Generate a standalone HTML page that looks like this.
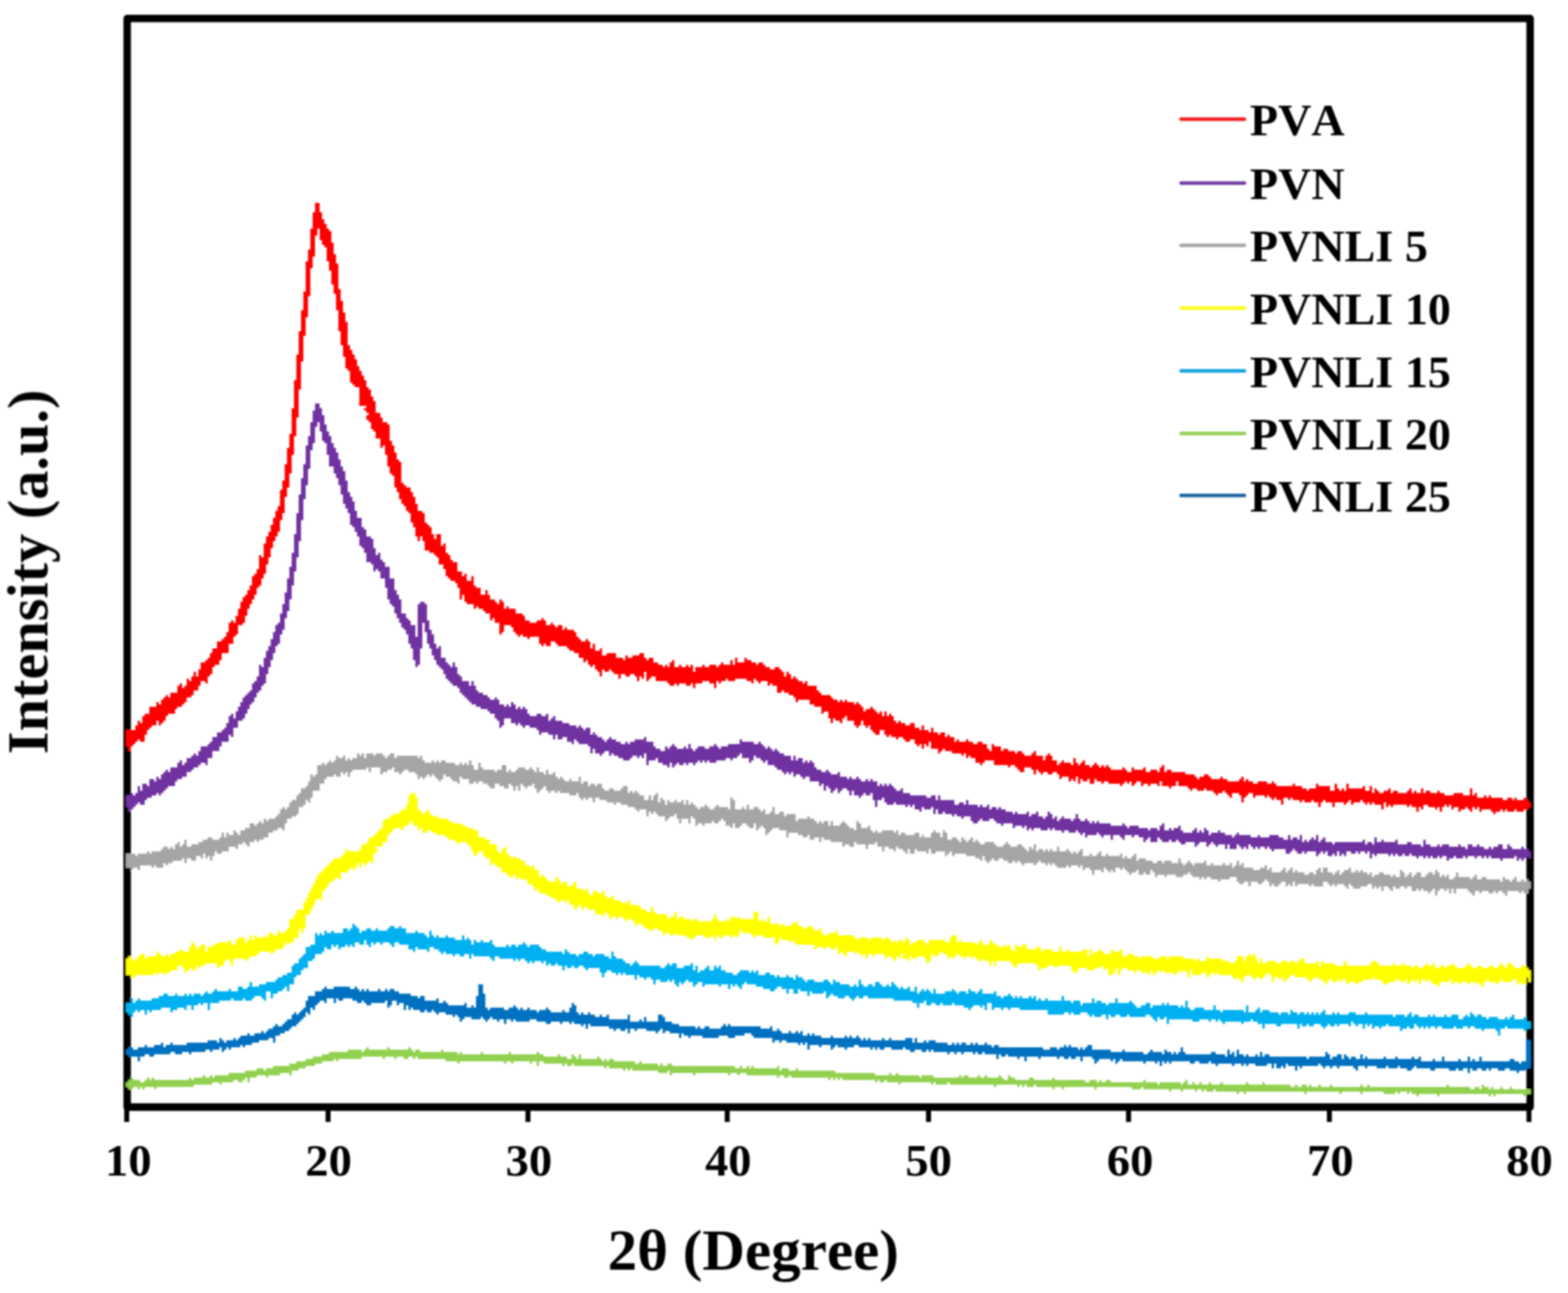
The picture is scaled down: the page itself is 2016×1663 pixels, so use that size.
<!DOCTYPE html>
<html lang="en"><head><meta charset="utf-8"><title>XRD patterns</title>
<style>
html,body{margin:0;padding:0;background:#ffffff;}
body{width:2016px;height:1663px;overflow:hidden;}
svg{display:block;}
text{font-family:"Liberation Serif",serif;font-weight:bold;fill:#000;font-kerning:none;font-variant-ligatures:none;}
.tick{font-size:57px;text-anchor:middle;}
.leg{font-size:57px;}
.title{font-size:75px;text-anchor:middle;}
</style></head><body>
<svg width="2016" height="1663" viewBox="0 0 2016 1663">
<defs><filter id="soft" x="-2%" y="-2%" width="104%" height="104%"><feGaussianBlur stdDeviation="1.0"/></filter>
<filter id="softt" x="-5%" y="-20%" width="110%" height="140%"><feGaussianBlur stdDeviation="0.8"/></filter></defs>
<rect x="0" y="0" width="2016" height="1663" fill="#ffffff"/>

<g filter="url(#soft)">
<rect x="163.5" y="23.8" width="1803.8" height="1400.1000000000001" fill="none" stroke="#000" stroke-width="9.6" stroke-linejoin="round"/>
<rect x="159.7" y="1423.9" width="6.4" height="19.1" fill="#000"/>
<rect x="418.6" y="1423.9" width="6.4" height="19.1" fill="#000"/>
<rect x="675.6" y="1423.9" width="6.4" height="19.1" fill="#000"/>
<rect x="931.8" y="1423.9" width="6.4" height="19.1" fill="#000"/>
<rect x="1190.6" y="1423.9" width="6.4" height="19.1" fill="#000"/>
<rect x="1447.8" y="1423.9" width="6.4" height="19.1" fill="#000"/>
<rect x="1706.0" y="1423.9" width="6.4" height="19.1" fill="#000"/>
<rect x="1962.6" y="1423.9" width="6.4" height="19.1" fill="#000"/>
<path fill="#FF0000" d="M162,939h3v21h-3zM165,939h3v27h-3zM168,939h3v21h-3zM171,939h3v18h-3zM174,933h3v21h-3zM177,927h3v24h-3zM180,930h3v24h-3zM183,921h3v33h-3zM186,918h3v27h-3zM189,918h3v21h-3zM192,909h3v27h-3zM195,909h3v24h-3zM198,909h3v24h-3zM201,903h3v24h-3zM204,906h3v27h-3zM207,900h3v30h-3zM210,897h3v30h-3zM213,894h3v27h-3zM216,897h3v21h-3zM219,891h3v27h-3zM222,891h3v27h-3zM225,891h3v21h-3zM228,882h3v27h-3zM231,879h3v30h-3zM234,885h3v21h-3zM237,882h3v21h-3zM240,873h3v24h-3zM243,876h3v21h-3zM246,870h3v24h-3zM249,864h3v24h-3zM252,870h3v18h-3zM255,861h3v21h-3zM258,852h3v24h-3zM261,852h3v24h-3zM264,849h3v30h-3zM267,846h3v24h-3zM270,840h3v27h-3zM273,834h3v24h-3zM276,834h3v21h-3zM279,825h3v30h-3zM282,825h3v24h-3zM285,822h3v18h-3zM288,819h3v21h-3zM291,813h3v27h-3zM294,801h3v27h-3zM297,798h3v30h-3zM300,801h3v18h-3zM303,792h3v24h-3zM306,783h3v21h-3zM309,774h3v30h-3zM312,768h3v33h-3zM315,765h3v27h-3zM318,759h3v24h-3zM321,753h3v24h-3zM324,741h3v30h-3zM327,738h3v27h-3zM330,732h3v24h-3zM333,714h3v39h-3zM336,717h3v27h-3zM339,699h3v39h-3zM342,690h3v36h-3zM345,684h3v33h-3zM348,675h3v30h-3zM351,666h3v30h-3zM354,657h3v33h-3zM357,651h3v33h-3zM360,630h3v39h-3zM363,618h3v42h-3zM366,597h3v42h-3zM369,576h3v51h-3zM372,558h3v51h-3zM375,525h3v60h-3zM378,489h3v72h-3zM381,456h3v81h-3zM384,426h3v75h-3zM387,399h3v66h-3zM390,375h3v57h-3zM393,336h3v72h-3zM396,321h3v60h-3zM399,294h3v51h-3zM402,273h3v57h-3zM405,261h3v42h-3zM408,261h3v33h-3zM411,273h3v36h-3zM414,282h3v33h-3zM417,288h3v30h-3zM420,294h3v42h-3zM423,297h3v51h-3zM426,312h3v54h-3zM429,327h3v51h-3zM432,339h3v60h-3zM435,372h3v54h-3zM438,387h3v57h-3zM441,402h3v57h-3zM444,414h3v60h-3zM447,444h3v33h-3zM450,450h3v42h-3zM453,456h3v39h-3zM456,462h3v36h-3zM459,471h3v27h-3zM462,477h3v45h-3zM465,483h3v39h-3zM468,489h3v33h-3zM468,525h3v3h-3zM471,498h3v33h-3zM471,534h3v6h-3zM474,501h3v42h-3zM477,510h3v42h-3zM480,516h3v39h-3zM483,531h3v33h-3zM486,531h3v33h-3zM489,537h3v39h-3zM492,543h3v30h-3zM495,543h3v42h-3zM498,546h3v54h-3zM501,567h3v42h-3zM504,573h3v39h-3zM507,582h3v45h-3zM510,591h3v42h-3zM513,594h3v48h-3zM516,621h3v27h-3zM519,624h3v27h-3zM522,627h3v30h-3zM525,627h3v33h-3zM528,633h3v39h-3zM531,639h3v39h-3zM534,648h3v42h-3zM537,657h3v39h-3zM540,657h3v33h-3zM543,660h3v36h-3zM546,672h3v36h-3zM549,675h3v33h-3zM552,678h3v33h-3zM555,687h3v24h-3zM558,693h3v21h-3zM561,687h3v30h-3zM564,687h3v39h-3zM567,702h3v24h-3zM570,699h3v33h-3zM573,711h3v30h-3zM576,714h3v30h-3zM579,720h3v27h-3zM582,723h3v24h-3zM585,723h3v27h-3zM588,735h3v21h-3zM591,735h3v36h-3zM594,741h3v24h-3zM597,738h3v36h-3zM600,747h3v30h-3zM603,747h3v30h-3zM606,741h3v36h-3zM609,753h3v30h-3zM612,756h3v24h-3zM615,756h3v27h-3zM618,765h3v18h-3zM621,765h3v21h-3zM624,759h3v30h-3zM627,765h3v24h-3zM630,771h3v27h-3zM633,771h3v24h-3zM636,774h3v27h-3zM639,777h3v24h-3zM642,771h3v45h-3zM645,774h3v39h-3zM648,783h3v21h-3zM651,780h3v24h-3zM654,783h3v21h-3zM657,783h3v24h-3zM660,783h3v30h-3zM663,789h3v27h-3zM666,789h3v30h-3zM669,789h3v27h-3zM672,792h3v27h-3zM675,798h3v21h-3zM678,798h3v24h-3zM681,801h3v18h-3zM684,801h3v18h-3zM687,801h3v18h-3zM690,798h3v21h-3zM693,798h3v30h-3zM696,795h3v36h-3zM699,798h3v30h-3zM702,804h3v27h-3zM705,804h3v27h-3zM708,801h3v24h-3zM711,804h3v21h-3zM714,807h3v21h-3zM717,804h3v27h-3zM720,804h3v27h-3zM723,810h3v21h-3zM726,807h3v24h-3zM729,810h3v24h-3zM732,810h3v27h-3zM735,810h3v27h-3zM738,813h3v27h-3zM741,819h3v21h-3zM744,822h3v24h-3zM747,825h3v21h-3zM750,825h3v27h-3zM753,822h3v27h-3zM756,825h3v30h-3zM759,834h3v24h-3zM762,828h3v27h-3zM765,837h3v24h-3zM768,837h3v27h-3zM771,834h3v36h-3zM774,843h3v18h-3zM777,843h3v21h-3zM780,840h3v24h-3zM783,840h3v21h-3zM786,840h3v24h-3zM789,840h3v27h-3zM792,846h3v21h-3zM795,846h3v27h-3zM798,846h3v21h-3zM801,849h3v18h-3zM804,843h3v27h-3zM807,846h3v24h-3zM810,846h3v21h-3zM813,843h3v24h-3zM816,843h3v27h-3zM819,843h3v33h-3zM822,840h3v30h-3zM825,840h3v33h-3zM828,846h3v18h-3zM831,849h3v27h-3zM834,846h3v27h-3zM837,846h3v24h-3zM840,852h3v18h-3zM843,852h3v24h-3zM846,855h3v21h-3zM849,855h3v21h-3zM852,858h3v18h-3zM855,855h3v21h-3zM858,858h3v21h-3zM861,852h3v30h-3zM864,849h3v33h-3zM867,858h3v21h-3zM870,858h3v24h-3zM873,855h3v24h-3zM876,858h3v21h-3zM879,858h3v21h-3zM882,855h3v27h-3zM885,858h3v24h-3zM888,855h3v24h-3zM891,864h3v21h-3zM894,858h3v21h-3zM897,858h3v21h-3zM900,858h3v21h-3zM903,855h3v21h-3zM906,858h3v18h-3zM909,858h3v18h-3zM912,855h3v24h-3zM915,855h3v24h-3zM918,855h3v30h-3zM921,858h3v18h-3zM924,855h3v24h-3zM927,852h3v24h-3zM930,855h3v21h-3zM933,855h3v18h-3zM936,855h3v21h-3zM939,849h3v27h-3zM942,855h3v21h-3zM945,846h3v27h-3zM948,852h3v21h-3zM951,852h3v21h-3zM954,852h3v21h-3zM957,846h3v27h-3zM960,849h3v27h-3zM963,849h3v27h-3zM966,852h3v27h-3zM969,852h3v21h-3zM972,855h3v21h-3zM975,852h3v27h-3zM978,852h3v24h-3zM981,855h3v21h-3zM984,858h3v18h-3zM987,858h3v24h-3zM990,861h3v18h-3zM993,861h3v21h-3zM996,858h3v24h-3zM999,858h3v33h-3zM1002,861h3v30h-3zM1005,864h3v24h-3zM1008,870h3v21h-3zM1011,864h3v27h-3zM1014,867h3v27h-3zM1017,873h3v21h-3zM1020,870h3v27h-3zM1023,873h3v30h-3zM1026,876h3v24h-3zM1029,876h3v24h-3zM1032,879h3v21h-3zM1035,876h3v24h-3zM1038,882h3v18h-3zM1041,882h3v24h-3zM1044,882h3v24h-3zM1047,882h3v27h-3zM1050,888h3v21h-3zM1053,891h3v18h-3zM1056,894h3v24h-3zM1059,894h3v21h-3zM1062,894h3v21h-3zM1065,894h3v30h-3zM1068,897h3v33h-3zM1071,900h3v24h-3zM1074,900h3v27h-3zM1077,903h3v24h-3zM1080,900h3v30h-3zM1083,903h3v21h-3zM1086,900h3v21h-3zM1089,903h3v24h-3zM1092,903h3v24h-3zM1095,903h3v24h-3zM1098,906h3v27h-3zM1101,903h3v33h-3zM1104,906h3v27h-3zM1107,909h3v18h-3zM1110,915h3v18h-3zM1113,912h3v24h-3zM1116,912h3v21h-3zM1119,909h3v30h-3zM1122,912h3v30h-3zM1125,915h3v30h-3zM1128,918h3v27h-3zM1131,915h3v24h-3zM1134,921h3v18h-3zM1137,915h3v30h-3zM1140,921h3v27h-3zM1143,918h3v27h-3zM1146,921h3v27h-3zM1149,927h3v21h-3zM1152,930h3v21h-3zM1155,927h3v21h-3zM1158,930h3v18h-3zM1161,930h3v21h-3zM1164,933h3v21h-3zM1167,933h3v21h-3zM1170,930h3v21h-3zM1173,930h3v21h-3zM1176,936h3v21h-3zM1179,936h3v24h-3zM1182,939h3v18h-3zM1185,933h3v30h-3zM1188,939h3v18h-3zM1191,939h3v21h-3zM1194,942h3v12h-3zM1197,936h3v27h-3zM1200,942h3v21h-3zM1203,942h3v21h-3zM1206,945h3v24h-3zM1209,942h3v24h-3zM1212,942h3v21h-3zM1215,948h3v18h-3zM1218,945h3v21h-3zM1221,948h3v18h-3zM1224,948h3v21h-3zM1227,954h3v15h-3zM1230,951h3v18h-3zM1233,954h3v15h-3zM1236,954h3v18h-3zM1239,954h3v15h-3zM1242,951h3v24h-3zM1245,954h3v18h-3zM1248,954h3v21h-3zM1251,957h3v18h-3zM1254,957h3v24h-3zM1257,954h3v27h-3zM1260,954h3v30h-3zM1263,957h3v24h-3zM1266,957h3v21h-3zM1269,963h3v15h-3zM1272,966h3v12h-3zM1275,957h3v21h-3zM1278,960h3v24h-3zM1281,960h3v24h-3zM1284,960h3v24h-3zM1287,966h3v18h-3zM1290,963h3v21h-3zM1293,963h3v21h-3zM1296,966h3v21h-3zM1299,966h3v18h-3zM1302,966h3v18h-3zM1305,969h3v18h-3zM1308,966h3v24h-3zM1311,966h3v27h-3zM1314,969h3v24h-3zM1317,972h3v15h-3zM1320,972h3v15h-3zM1323,972h3v15h-3zM1326,969h3v21h-3zM1329,966h3v30h-3zM1332,972h3v18h-3zM1335,972h3v21h-3zM1338,972h3v24h-3zM1341,978h3v15h-3zM1344,972h3v21h-3zM1347,969h3v27h-3zM1350,972h3v24h-3zM1353,978h3v15h-3zM1356,978h3v15h-3zM1359,984h3v12h-3zM1362,981h3v21h-3zM1365,978h3v21h-3zM1368,981h3v18h-3zM1371,981h3v18h-3zM1374,981h3v24h-3zM1377,984h3v18h-3zM1380,975h3v30h-3zM1383,981h3v18h-3zM1386,984h3v24h-3zM1389,981h3v21h-3zM1392,978h3v27h-3zM1395,984h3v21h-3zM1398,984h3v18h-3zM1401,987h3v21h-3zM1404,984h3v24h-3zM1407,981h3v21h-3zM1410,984h3v21h-3zM1413,987h3v18h-3zM1416,984h3v24h-3zM1419,987h3v18h-3zM1422,984h3v21h-3zM1425,987h3v21h-3zM1428,990h3v18h-3zM1431,990h3v18h-3zM1434,990h3v18h-3zM1437,990h3v18h-3zM1440,990h3v21h-3zM1443,987h3v21h-3zM1446,990h3v15h-3zM1449,993h3v15h-3zM1452,993h3v12h-3zM1455,987h3v24h-3zM1458,990h3v18h-3zM1461,990h3v15h-3zM1464,990h3v15h-3zM1467,990h3v21h-3zM1470,987h3v21h-3zM1473,993h3v15h-3zM1476,993h3v18h-3zM1479,990h3v18h-3zM1482,990h3v18h-3zM1485,990h3v18h-3zM1488,993h3v18h-3zM1491,987h3v18h-3zM1494,984h3v27h-3zM1497,993h3v18h-3zM1500,990h3v21h-3zM1503,990h3v24h-3zM1506,993h3v18h-3zM1509,993h3v18h-3zM1512,993h3v12h-3zM1515,993h3v18h-3zM1518,993h3v18h-3zM1521,993h3v18h-3zM1524,996h3v15h-3zM1527,996h3v18h-3zM1530,996h3v21h-3zM1533,996h3v18h-3zM1536,999h3v15h-3zM1539,1002h3v15h-3zM1542,999h3v18h-3zM1545,999h3v18h-3zM1548,996h3v18h-3zM1551,996h3v21h-3zM1554,999h3v18h-3zM1557,1002h3v15h-3zM1560,1002h3v18h-3zM1563,1002h3v21h-3zM1566,1002h3v18h-3zM1569,999h3v21h-3zM1572,1002h3v15h-3zM1575,1002h3v18h-3zM1578,1005h3v18h-3zM1581,1005h3v21h-3zM1584,1005h3v15h-3zM1587,1005h3v15h-3zM1590,1005h3v15h-3zM1593,1002h3v21h-3zM1596,999h3v33h-3zM1599,1005h3v21h-3zM1602,1002h3v21h-3zM1605,1005h3v15h-3zM1608,1005h3v15h-3zM1611,1008h3v18h-3zM1614,1008h3v15h-3zM1617,1005h3v18h-3zM1620,1005h3v18h-3zM1623,1005h3v18h-3zM1626,1005h3v21h-3zM1629,1008h3v15h-3zM1632,1008h3v18h-3zM1635,1005h3v24h-3zM1638,1008h3v18h-3zM1641,1011h3v18h-3zM1644,1011h3v18h-3zM1647,1011h3v24h-3zM1650,1011h3v15h-3zM1653,1011h3v15h-3zM1656,1011h3v18h-3zM1659,1011h3v15h-3zM1662,1008h3v21h-3zM1665,1011h3v18h-3zM1668,1011h3v18h-3zM1671,1011h3v21h-3zM1674,1014h3v15h-3zM1677,1014h3v18h-3zM1680,1017h3v15h-3zM1683,1014h3v18h-3zM1686,1014h3v15h-3zM1689,1014h3v18h-3zM1692,1008h3v24h-3zM1695,1011h3v27h-3zM1698,1011h3v21h-3zM1701,1011h3v18h-3zM1704,1011h3v21h-3zM1707,1011h3v21h-3zM1710,1017h3v15h-3zM1713,1017h3v21h-3zM1716,1008h3v24h-3zM1719,1014h3v18h-3zM1722,1017h3v15h-3zM1725,1014h3v18h-3zM1728,1017h3v18h-3zM1731,1008h3v24h-3zM1734,1014h3v15h-3zM1737,1014h3v21h-3zM1740,1014h3v18h-3zM1743,1014h3v18h-3zM1746,1014h3v18h-3zM1749,1014h3v15h-3zM1752,1011h3v21h-3zM1755,1017h3v18h-3zM1758,1017h3v15h-3zM1761,1011h3v24h-3zM1764,1020h3v12h-3zM1767,1014h3v21h-3zM1770,1017h3v18h-3zM1773,1020h3v15h-3zM1776,1020h3v21h-3zM1779,1017h3v15h-3zM1782,1017h3v21h-3zM1785,1014h3v21h-3zM1788,1020h3v18h-3zM1791,1017h3v18h-3zM1794,1017h3v18h-3zM1797,1020h3v15h-3zM1800,1020h3v15h-3zM1803,1020h3v15h-3zM1806,1020h3v15h-3zM1809,1017h3v21h-3zM1812,1014h3v21h-3zM1815,1020h3v18h-3zM1818,1017h3v21h-3zM1821,1020h3v24h-3zM1824,1020h3v18h-3zM1827,1014h3v27h-3zM1830,1020h3v15h-3zM1833,1017h3v18h-3zM1836,1017h3v21h-3zM1839,1020h3v18h-3zM1842,1020h3v18h-3zM1845,1020h3v21h-3zM1848,1017h3v21h-3zM1851,1020h3v24h-3zM1854,1020h3v18h-3zM1857,1023h3v12h-3zM1860,1023h3v15h-3zM1863,1023h3v12h-3zM1866,1023h3v18h-3zM1869,1020h3v18h-3zM1872,1020h3v18h-3zM1875,1020h3v24h-3zM1878,1020h3v21h-3zM1881,1023h3v18h-3zM1884,1023h3v15h-3zM1887,1023h3v18h-3zM1890,1014h3v30h-3zM1893,1023h3v15h-3zM1896,1020h3v21h-3zM1899,1026h3v12h-3zM1902,1026h3v18h-3zM1905,1026h3v15h-3zM1908,1023h3v18h-3zM1911,1026h3v15h-3zM1914,1023h3v18h-3zM1917,1026h3v18h-3zM1920,1026h3v21h-3zM1923,1026h3v18h-3zM1926,1026h3v18h-3zM1929,1026h3v15h-3zM1932,1029h3v15h-3zM1935,1029h3v12h-3zM1938,1026h3v18h-3zM1941,1026h3v18h-3zM1944,1029h3v15h-3zM1947,1026h3v15h-3zM1950,1029h3v15h-3zM1953,1029h3v15h-3zM1956,1029h3v15h-3zM1959,1026h3v15h-3zM1962,1029h3v12h-3zM1965,1032h3v6h-3z"/>
<path fill="#7030A0" d="M162,1023h3v15h-3zM165,1023h3v21h-3zM168,1020h3v21h-3zM171,1023h3v15h-3zM174,1020h3v15h-3zM177,1011h3v21h-3zM180,1017h3v18h-3zM183,1008h3v27h-3zM186,1008h3v21h-3zM189,1011h3v15h-3zM192,1002h3v24h-3zM195,1002h3v21h-3zM198,1005h3v18h-3zM201,999h3v21h-3zM204,1002h3v21h-3zM207,996h3v24h-3zM210,993h3v24h-3zM213,990h3v24h-3zM216,993h3v18h-3zM219,987h3v24h-3zM222,987h3v24h-3zM225,987h3v18h-3zM228,981h3v21h-3zM231,978h3v24h-3zM234,984h3v15h-3zM237,981h3v18h-3zM240,975h3v18h-3zM243,975h3v18h-3zM246,972h3v18h-3zM249,969h3v18h-3zM252,972h3v15h-3zM255,966h3v18h-3zM258,960h3v21h-3zM261,960h3v21h-3zM264,960h3v24h-3zM267,957h3v18h-3zM270,954h3v21h-3zM273,948h3v18h-3zM276,948h3v18h-3zM279,942h3v24h-3zM282,942h3v18h-3zM285,939h3v15h-3zM288,936h3v18h-3zM291,930h3v24h-3zM294,921h3v24h-3zM297,918h3v30h-3zM300,924h3v12h-3zM303,915h3v21h-3zM306,909h3v18h-3zM309,903h3v24h-3zM312,897h3v27h-3zM315,894h3v24h-3zM318,891h3v21h-3zM321,888h3v18h-3zM324,879h3v24h-3zM327,876h3v21h-3zM330,870h3v21h-3zM333,855h3v33h-3zM336,858h3v24h-3zM339,846h3v33h-3zM342,837h3v30h-3zM345,831h3v27h-3zM348,822h3v27h-3zM351,813h3v27h-3zM354,804h3v27h-3zM357,801h3v27h-3zM360,789h3v27h-3zM363,777h3v33h-3zM366,762h3v33h-3zM369,744h3v42h-3zM372,729h3v42h-3zM375,711h3v42h-3zM378,687h3v48h-3zM381,660h3v57h-3zM384,636h3v60h-3zM387,615h3v54h-3zM390,597h3v45h-3zM393,573h3v51h-3zM396,561h3v42h-3zM399,543h3v36h-3zM402,528h3v42h-3zM405,519h3v30h-3zM408,519h3v24h-3zM411,525h3v30h-3zM414,534h3v33h-3zM417,546h3v24h-3zM420,555h3v30h-3zM423,561h3v39h-3zM426,570h3v30h-3zM429,576h3v33h-3zM432,582h3v33h-3zM435,591h3v33h-3zM438,600h3v36h-3zM441,606h3v42h-3zM444,618h3v36h-3zM447,633h3v27h-3zM450,639h3v36h-3zM453,645h3v33h-3zM456,657h3v27h-3zM459,666h3v24h-3zM462,666h3v36h-3zM465,678h3v27h-3zM468,681h3v30h-3zM471,690h3v33h-3zM474,690h3v33h-3zM477,693h3v33h-3zM480,705h3v30h-3zM483,714h3v18h-3zM486,711h3v24h-3zM489,720h3v24h-3zM492,723h3v21h-3zM495,729h3v27h-3zM498,729h3v42h-3zM501,744h3v33h-3zM504,744h3v36h-3zM507,759h3v30h-3zM510,765h3v30h-3zM513,771h3v30h-3zM516,789h3v18h-3zM519,789h3v21h-3zM522,795h3v21h-3zM525,798h3v30h-3zM528,804h3v30h-3zM531,804h3v45h-3zM534,819h3v39h-3zM537,777h3v78h-3zM540,774h3v60h-3zM543,774h3v27h-3zM546,777h3v36h-3zM549,798h3v30h-3zM552,810h3v24h-3zM555,816h3v27h-3zM558,828h3v21h-3zM561,834h3v21h-3zM564,831h3v27h-3zM567,846h3v15h-3zM570,846h3v21h-3zM573,852h3v21h-3zM576,855h3v21h-3zM579,858h3v21h-3zM582,852h3v30h-3zM585,858h3v24h-3zM588,867h3v18h-3zM591,870h3v21h-3zM594,876h3v18h-3zM597,876h3v21h-3zM600,876h3v24h-3zM603,882h3v21h-3zM606,876h3v30h-3zM609,882h3v24h-3zM612,888h3v21h-3zM615,891h3v18h-3zM618,891h3v21h-3zM621,894h3v18h-3zM624,894h3v18h-3zM627,897h3v18h-3zM630,900h3v18h-3zM633,900h3v18h-3zM636,897h3v27h-3zM639,900h3v27h-3zM642,906h3v30h-3zM645,906h3v27h-3zM648,909h3v15h-3zM651,906h3v18h-3zM654,909h3v15h-3zM657,903h3v27h-3zM660,906h3v24h-3zM663,912h3v21h-3zM666,909h3v21h-3zM669,912h3v21h-3zM672,909h3v27h-3zM675,912h3v21h-3zM678,918h3v15h-3zM681,921h3v15h-3zM684,921h3v15h-3zM687,921h3v15h-3zM690,918h3v21h-3zM693,918h3v27h-3zM696,921h3v21h-3zM699,921h3v21h-3zM702,918h3v24h-3zM705,927h3v18h-3zM708,924h3v21h-3zM711,921h3v30h-3zM714,927h3v18h-3zM717,927h3v24h-3zM720,927h3v24h-3zM723,930h3v18h-3zM726,930h3v18h-3zM729,930h3v24h-3zM732,933h3v21h-3zM735,933h3v24h-3zM738,933h3v18h-3zM741,936h3v18h-3zM744,933h3v24h-3zM747,936h3v21h-3zM750,939h3v18h-3zM753,936h3v21h-3zM756,936h3v24h-3zM759,945h3v24h-3zM762,942h3v21h-3zM765,945h3v24h-3zM768,948h3v21h-3zM771,948h3v24h-3zM774,951h3v18h-3zM777,954h3v12h-3zM780,951h3v15h-3zM783,948h3v24h-3zM786,951h3v18h-3zM789,951h3v21h-3zM792,954h3v18h-3zM795,954h3v21h-3zM798,957h3v18h-3zM801,957h3v21h-3zM804,954h3v24h-3zM807,957h3v21h-3zM810,954h3v21h-3zM813,954h3v18h-3zM816,951h3v21h-3zM819,951h3v24h-3zM822,951h3v21h-3zM825,951h3v24h-3zM828,948h3v21h-3zM831,954h3v30h-3zM834,954h3v24h-3zM837,954h3v24h-3zM840,960h3v18h-3zM843,963h3v12h-3zM846,963h3v18h-3zM849,966h3v15h-3zM852,966h3v18h-3zM855,960h3v24h-3zM858,963h3v24h-3zM861,960h3v21h-3zM864,957h3v30h-3zM867,960h3v24h-3zM870,963h3v18h-3zM873,963h3v21h-3zM876,963h3v21h-3zM879,960h3v21h-3zM882,963h3v21h-3zM885,957h3v24h-3zM888,963h3v18h-3zM891,966h3v18h-3zM894,963h3v18h-3zM897,960h3v18h-3zM900,960h3v21h-3zM903,960h3v18h-3zM906,963h3v18h-3zM909,963h3v15h-3zM912,960h3v21h-3zM915,960h3v21h-3zM918,957h3v24h-3zM921,960h3v18h-3zM924,963h3v15h-3zM927,960h3v18h-3zM930,960h3v18h-3zM933,960h3v15h-3zM936,957h3v18h-3zM939,957h3v21h-3zM942,957h3v18h-3zM945,957h3v18h-3zM948,957h3v15h-3zM951,951h3v18h-3zM954,954h3v21h-3zM957,954h3v21h-3zM960,954h3v21h-3zM963,954h3v27h-3zM966,954h3v24h-3zM969,957h3v15h-3zM972,957h3v18h-3zM975,954h3v21h-3zM978,957h3v21h-3zM981,960h3v21h-3zM984,963h3v15h-3zM987,960h3v24h-3zM990,963h3v21h-3zM993,966h3v18h-3zM996,963h3v24h-3zM999,966h3v24h-3zM1002,969h3v21h-3zM1005,969h3v24h-3zM1008,972h3v24h-3zM1011,972h3v21h-3zM1014,972h3v24h-3zM1017,978h3v15h-3zM1020,972h3v27h-3zM1023,978h3v18h-3zM1026,975h3v21h-3zM1029,975h3v24h-3zM1032,981h3v21h-3zM1035,978h3v21h-3zM1038,981h3v18h-3zM1041,978h3v27h-3zM1044,981h3v24h-3zM1047,987h3v18h-3zM1050,990h3v15h-3zM1053,990h3v21h-3zM1056,993h3v15h-3zM1059,993h3v24h-3zM1062,990h3v21h-3zM1065,993h3v21h-3zM1068,996h3v24h-3zM1071,996h3v21h-3zM1074,996h3v18h-3zM1077,993h3v27h-3zM1080,999h3v18h-3zM1083,999h3v15h-3zM1086,999h3v15h-3zM1089,1002h3v15h-3zM1092,999h3v24h-3zM1095,1002h3v15h-3zM1098,1002h3v21h-3zM1101,999h3v24h-3zM1104,1002h3v24h-3zM1107,1005h3v18h-3zM1110,1005h3v15h-3zM1113,1002h3v21h-3zM1116,1005h3v18h-3zM1119,1002h3v18h-3zM1122,1005h3v24h-3zM1125,1005h3v33h-3zM1128,1011h3v18h-3zM1131,1008h3v21h-3zM1134,1011h3v15h-3zM1137,1008h3v24h-3zM1140,1011h3v24h-3zM1143,1008h3v27h-3zM1146,1011h3v24h-3zM1149,1014h3v18h-3zM1152,1017h3v18h-3zM1155,1017h3v18h-3zM1158,1014h3v21h-3zM1161,1020h3v15h-3zM1164,1020h3v18h-3zM1167,1020h3v15h-3zM1170,1023h3v15h-3zM1173,1023h3v12h-3zM1176,1023h3v18h-3zM1179,1023h3v18h-3zM1182,1023h3v21h-3zM1185,1023h3v15h-3zM1188,1023h3v18h-3zM1191,1026h3v15h-3zM1194,1026h3v15h-3zM1197,1023h3v15h-3zM1200,1023h3v24h-3zM1203,1029h3v12h-3zM1206,1023h3v24h-3zM1209,1029h3v18h-3zM1212,1029h3v15h-3zM1215,1029h3v18h-3zM1218,1029h3v18h-3zM1221,1029h3v18h-3zM1224,1029h3v21h-3zM1227,1035h3v12h-3zM1230,1035h3v15h-3zM1233,1032h3v18h-3zM1236,1032h3v21h-3zM1239,1035h3v15h-3zM1242,1029h3v21h-3zM1245,1035h3v15h-3zM1248,1035h3v21h-3zM1251,1035h3v24h-3zM1254,1035h3v24h-3zM1257,1038h3v18h-3zM1260,1035h3v18h-3zM1263,1038h3v18h-3zM1266,1038h3v18h-3zM1269,1035h3v21h-3zM1272,1041h3v12h-3zM1275,1038h3v15h-3zM1278,1038h3v18h-3zM1281,1041h3v18h-3zM1284,1038h3v21h-3zM1287,1041h3v21h-3zM1290,1041h3v18h-3zM1293,1044h3v15h-3zM1296,1044h3v15h-3zM1299,1044h3v15h-3zM1302,1047h3v18h-3zM1305,1044h3v18h-3zM1308,1047h3v15h-3zM1311,1047h3v15h-3zM1314,1047h3v18h-3zM1317,1047h3v15h-3zM1320,1044h3v24h-3zM1323,1050h3v15h-3zM1326,1047h3v21h-3zM1329,1047h3v18h-3zM1332,1044h3v21h-3zM1335,1050h3v15h-3zM1338,1050h3v18h-3zM1341,1053h3v15h-3zM1344,1050h3v18h-3zM1347,1044h3v21h-3zM1350,1047h3v21h-3zM1353,1053h3v12h-3zM1356,1050h3v18h-3zM1359,1056h3v12h-3zM1362,1053h3v15h-3zM1365,1050h3v21h-3zM1368,1053h3v15h-3zM1371,1053h3v15h-3zM1374,1053h3v18h-3zM1377,1056h3v15h-3zM1380,1053h3v18h-3zM1383,1047h3v21h-3zM1386,1053h3v18h-3zM1389,1056h3v18h-3zM1392,1056h3v15h-3zM1395,1053h3v24h-3zM1398,1056h3v18h-3zM1401,1059h3v15h-3zM1404,1056h3v18h-3zM1407,1059h3v15h-3zM1410,1056h3v15h-3zM1413,1059h3v15h-3zM1416,1059h3v18h-3zM1419,1059h3v15h-3zM1422,1059h3v15h-3zM1425,1059h3v15h-3zM1428,1062h3v18h-3zM1431,1062h3v12h-3zM1434,1062h3v12h-3zM1437,1062h3v12h-3zM1440,1062h3v15h-3zM1443,1059h3v21h-3zM1446,1062h3v12h-3zM1449,1065h3v9h-3zM1452,1062h3v12h-3zM1455,1062h3v15h-3zM1458,1062h3v12h-3zM1461,1062h3v12h-3zM1464,1065h3v12h-3zM1467,1065h3v12h-3zM1470,1065h3v18h-3zM1473,1065h3v15h-3zM1476,1068h3v9h-3zM1479,1065h3v18h-3zM1482,1065h3v18h-3zM1485,1065h3v18h-3zM1488,1068h3v9h-3zM1491,1062h3v18h-3zM1494,1059h3v24h-3zM1497,1068h3v15h-3zM1500,1068h3v15h-3zM1503,1065h3v15h-3zM1506,1068h3v15h-3zM1509,1065h3v18h-3zM1512,1065h3v15h-3zM1515,1062h3v21h-3zM1518,1068h3v18h-3zM1521,1071h3v15h-3zM1524,1071h3v12h-3zM1527,1071h3v12h-3zM1530,1071h3v12h-3zM1533,1068h3v15h-3zM1536,1065h3v24h-3zM1539,1071h3v15h-3zM1542,1068h3v15h-3zM1545,1071h3v12h-3zM1548,1065h3v18h-3zM1551,1068h3v21h-3zM1554,1074h3v12h-3zM1557,1071h3v12h-3zM1560,1071h3v15h-3zM1563,1071h3v18h-3zM1566,1068h3v18h-3zM1569,1071h3v15h-3zM1572,1071h3v15h-3zM1575,1074h3v18h-3zM1578,1074h3v12h-3zM1581,1074h3v18h-3zM1584,1077h3v15h-3zM1587,1074h3v18h-3zM1590,1071h3v15h-3zM1593,1074h3v15h-3zM1596,1074h3v18h-3zM1599,1074h3v15h-3zM1602,1074h3v18h-3zM1605,1074h3v12h-3zM1608,1077h3v12h-3zM1611,1077h3v15h-3zM1614,1077h3v12h-3zM1617,1074h3v18h-3zM1620,1077h3v12h-3zM1623,1077h3v12h-3zM1626,1077h3v15h-3zM1629,1077h3v12h-3zM1632,1074h3v18h-3zM1635,1074h3v21h-3zM1638,1074h3v18h-3zM1641,1074h3v18h-3zM1644,1077h3v15h-3zM1647,1077h3v15h-3zM1650,1080h3v12h-3zM1653,1080h3v18h-3zM1656,1074h3v24h-3zM1659,1080h3v15h-3zM1662,1077h3v15h-3zM1665,1077h3v18h-3zM1668,1080h3v18h-3zM1671,1074h3v24h-3zM1674,1083h3v12h-3zM1677,1080h3v18h-3zM1680,1083h3v12h-3zM1683,1080h3v15h-3zM1686,1077h3v18h-3zM1689,1080h3v15h-3zM1692,1074h3v27h-3zM1695,1083h3v15h-3zM1698,1080h3v15h-3zM1701,1077h3v21h-3zM1704,1083h3v12h-3zM1707,1083h3v18h-3zM1710,1083h3v18h-3zM1713,1086h3v12h-3zM1716,1083h3v18h-3zM1719,1083h3v12h-3zM1722,1083h3v18h-3zM1725,1083h3v15h-3zM1728,1083h3v18h-3zM1731,1083h3v12h-3zM1734,1083h3v12h-3zM1737,1083h3v15h-3zM1740,1083h3v15h-3zM1743,1083h3v12h-3zM1746,1083h3v15h-3zM1749,1083h3v12h-3zM1752,1080h3v15h-3zM1755,1086h3v12h-3zM1758,1083h3v12h-3zM1761,1083h3v21h-3zM1764,1086h3v12h-3zM1767,1077h3v24h-3zM1770,1083h3v15h-3zM1773,1083h3v15h-3zM1776,1080h3v18h-3zM1779,1083h3v15h-3zM1782,1083h3v15h-3zM1785,1083h3v18h-3zM1788,1083h3v15h-3zM1791,1083h3v18h-3zM1794,1080h3v18h-3zM1797,1086h3v15h-3zM1800,1086h3v15h-3zM1803,1086h3v12h-3zM1806,1086h3v15h-3zM1809,1083h3v18h-3zM1812,1083h3v15h-3zM1815,1086h3v15h-3zM1818,1086h3v15h-3zM1821,1086h3v18h-3zM1824,1086h3v15h-3zM1827,1089h3v12h-3zM1830,1080h3v24h-3zM1833,1086h3v15h-3zM1836,1086h3v18h-3zM1839,1089h3v12h-3zM1842,1089h3v15h-3zM1845,1089h3v15h-3zM1848,1086h3v15h-3zM1851,1089h3v15h-3zM1854,1086h3v15h-3zM1857,1086h3v15h-3zM1860,1086h3v21h-3zM1863,1089h3v15h-3zM1866,1089h3v15h-3zM1869,1089h3v12h-3zM1872,1089h3v15h-3zM1875,1086h3v18h-3zM1878,1089h3v15h-3zM1881,1089h3v12h-3zM1884,1092h3v12h-3zM1887,1086h3v15h-3zM1890,1086h3v15h-3zM1893,1089h3v12h-3zM1896,1089h3v15h-3zM1899,1086h3v15h-3zM1902,1089h3v12h-3zM1905,1089h3v15h-3zM1908,1092h3v9h-3zM1911,1092h3v12h-3zM1914,1089h3v12h-3zM1917,1092h3v12h-3zM1920,1089h3v15h-3zM1923,1089h3v15h-3zM1926,1086h3v18h-3zM1929,1086h3v21h-3zM1932,1092h3v12h-3zM1935,1092h3v12h-3zM1938,1086h3v18h-3zM1941,1089h3v15h-3zM1944,1092h3v12h-3zM1947,1092h3v9h-3zM1950,1092h3v15h-3zM1953,1092h3v12h-3zM1956,1089h3v18h-3zM1959,1092h3v12h-3zM1962,1092h3v9h-3zM1965,1095h3v9h-3z"/>
<path fill="#A5A5A5" d="M162,1098h3v18h-3zM165,1098h3v18h-3zM168,1098h3v21h-3zM171,1098h3v18h-3zM174,1101h3v15h-3zM177,1098h3v21h-3zM180,1098h3v15h-3zM183,1098h3v15h-3zM186,1098h3v15h-3zM189,1095h3v18h-3zM192,1098h3v15h-3zM195,1095h3v21h-3zM198,1095h3v18h-3zM201,1095h3v21h-3zM204,1095h3v21h-3zM207,1092h3v24h-3zM210,1089h3v21h-3zM213,1089h3v24h-3zM216,1092h3v18h-3zM219,1089h3v21h-3zM222,1092h3v15h-3zM225,1086h3v21h-3zM228,1083h3v24h-3zM231,1089h3v18h-3zM234,1086h3v18h-3zM237,1080h3v30h-3zM240,1089h3v15h-3zM243,1089h3v15h-3zM246,1086h3v21h-3zM249,1086h3v21h-3zM252,1086h3v15h-3zM255,1083h3v18h-3zM258,1083h3v21h-3zM261,1080h3v18h-3zM264,1080h3v24h-3zM267,1077h3v24h-3zM270,1077h3v30h-3zM273,1080h3v21h-3zM276,1080h3v15h-3zM279,1080h3v18h-3zM282,1077h3v21h-3zM285,1071h3v24h-3zM288,1077h3v18h-3zM291,1071h3v24h-3zM294,1074h3v15h-3zM297,1074h3v15h-3zM300,1068h3v21h-3zM303,1071h3v21h-3zM306,1074h3v12h-3zM309,1068h3v18h-3zM312,1068h3v15h-3zM315,1065h3v21h-3zM318,1065h3v24h-3zM321,1059h3v24h-3zM324,1059h3v24h-3zM327,1062h3v18h-3zM330,1059h3v24h-3zM333,1056h3v24h-3zM336,1059h3v21h-3zM339,1053h3v24h-3zM342,1056h3v21h-3zM345,1053h3v18h-3zM348,1053h3v18h-3zM351,1053h3v15h-3zM354,1050h3v18h-3zM357,1047h3v18h-3zM360,1041h3v24h-3zM363,1038h3v30h-3zM366,1041h3v18h-3zM369,1038h3v15h-3zM372,1032h3v21h-3zM375,1029h3v21h-3zM378,1029h3v21h-3zM381,1023h3v24h-3zM384,1020h3v18h-3zM387,1014h3v24h-3zM390,1014h3v21h-3zM393,1011h3v18h-3zM396,1005h3v27h-3zM399,996h3v30h-3zM402,999h3v18h-3zM405,996h3v21h-3zM408,984h3v33h-3zM411,984h3v24h-3zM414,981h3v27h-3zM417,984h3v18h-3zM420,981h3v18h-3zM423,978h3v21h-3zM426,981h3v18h-3zM429,978h3v18h-3zM432,972h3v27h-3zM435,975h3v24h-3zM438,975h3v18h-3zM441,972h3v24h-3zM444,978h3v15h-3zM447,975h3v24h-3zM450,978h3v15h-3zM453,975h3v15h-3zM456,975h3v15h-3zM459,969h3v21h-3zM462,972h3v18h-3zM465,969h3v21h-3zM468,975h3v15h-3zM471,969h3v18h-3zM474,969h3v24h-3zM477,969h3v18h-3zM480,972h3v15h-3zM483,969h3v18h-3zM486,969h3v18h-3zM489,969h3v27h-3zM492,972h3v21h-3zM495,975h3v18h-3zM498,972h3v18h-3zM501,969h3v21h-3zM504,969h3v18h-3zM507,975h3v18h-3zM510,972h3v21h-3zM513,972h3v24h-3zM516,972h3v21h-3zM519,972h3v18h-3zM522,972h3v18h-3zM525,972h3v21h-3zM528,972h3v21h-3zM531,972h3v21h-3zM534,972h3v24h-3zM537,975h3v27h-3zM540,972h3v27h-3zM543,978h3v24h-3zM546,981h3v18h-3zM549,981h3v15h-3zM552,981h3v18h-3zM555,978h3v18h-3zM558,981h3v18h-3zM561,978h3v24h-3zM564,981h3v24h-3zM567,978h3v24h-3zM570,978h3v18h-3zM573,981h3v18h-3zM576,981h3v18h-3zM579,981h3v21h-3zM582,981h3v24h-3zM585,984h3v21h-3zM588,984h3v24h-3zM591,981h3v18h-3zM594,984h3v18h-3zM597,981h3v21h-3zM600,984h3v18h-3zM603,978h3v30h-3zM606,984h3v24h-3zM609,990h3v15h-3zM612,990h3v18h-3zM615,981h3v24h-3zM618,987h3v18h-3zM621,990h3v18h-3zM624,990h3v18h-3zM627,990h3v21h-3zM630,990h3v24h-3zM633,990h3v24h-3zM636,993h3v15h-3zM639,990h3v18h-3zM642,990h3v21h-3zM645,984h3v27h-3zM648,984h3v30h-3zM651,993h3v21h-3zM654,990h3v18h-3zM657,993h3v18h-3zM660,993h3v24h-3zM663,990h3v21h-3zM666,987h3v30h-3zM669,987h3v21h-3zM672,987h3v24h-3zM675,990h3v24h-3zM678,990h3v21h-3zM681,987h3v24h-3zM684,990h3v18h-3zM687,993h3v21h-3zM690,987h3v33h-3zM693,993h3v24h-3zM696,993h3v21h-3zM699,996h3v15h-3zM702,990h3v27h-3zM705,996h3v24h-3zM708,996h3v21h-3zM711,993h3v24h-3zM714,999h3v21h-3zM717,1002h3v15h-3zM720,999h3v21h-3zM723,1002h3v18h-3zM726,1005h3v15h-3zM729,1005h3v15h-3zM732,1002h3v21h-3zM735,1005h3v18h-3zM738,1005h3v18h-3zM741,1005h3v15h-3zM744,999h3v27h-3zM747,1008h3v21h-3zM750,1005h3v21h-3zM753,1005h3v24h-3zM756,1011h3v15h-3zM759,1008h3v18h-3zM762,1008h3v24h-3zM765,1011h3v15h-3zM768,1008h3v18h-3zM771,1008h3v21h-3zM774,1014h3v15h-3zM777,1017h3v12h-3zM780,1017h3v15h-3zM783,1014h3v18h-3zM786,1014h3v18h-3zM789,1017h3v18h-3zM792,1017h3v15h-3zM795,1017h3v15h-3zM798,1014h3v21h-3zM801,1011h3v24h-3zM804,1011h3v24h-3zM807,1020h3v18h-3zM810,1017h3v21h-3zM813,1020h3v18h-3zM816,1017h3v24h-3zM819,1020h3v24h-3zM822,1023h3v18h-3zM825,1023h3v18h-3zM828,1029h3v12h-3zM831,1029h3v21h-3zM834,1023h3v21h-3zM837,1029h3v18h-3zM840,1023h3v21h-3zM843,1020h3v27h-3zM846,1032h3v18h-3zM849,1026h3v24h-3zM852,1029h3v21h-3zM855,1035h3v21h-3zM858,1029h3v24h-3zM861,1032h3v18h-3zM864,1032h3v18h-3zM867,1029h3v18h-3zM870,1032h3v21h-3zM873,1032h3v27h-3zM876,1029h3v24h-3zM879,1035h3v18h-3zM882,1029h3v24h-3zM885,1035h3v24h-3zM888,1032h3v18h-3zM891,1035h3v18h-3zM894,1038h3v24h-3zM897,1041h3v18h-3zM900,1038h3v21h-3zM903,1038h3v24h-3zM906,1035h3v24h-3zM909,1038h3v21h-3zM912,1041h3v18h-3zM915,1041h3v15h-3zM918,1038h3v21h-3zM921,1035h3v24h-3zM924,1038h3v18h-3zM927,1038h3v15h-3zM930,1038h3v18h-3zM933,1038h3v24h-3zM936,1041h3v21h-3zM939,1026h3v39h-3zM942,1029h3v30h-3zM945,1041h3v24h-3zM948,1041h3v24h-3zM951,1041h3v21h-3zM954,1038h3v21h-3zM957,1041h3v18h-3zM960,1035h3v27h-3zM963,1041h3v24h-3zM966,1041h3v24h-3zM969,1038h3v21h-3zM972,1038h3v30h-3zM975,1041h3v24h-3zM978,1044h3v18h-3zM981,1041h3v24h-3zM984,1047h3v27h-3zM987,1047h3v24h-3zM990,1044h3v24h-3zM993,1038h3v27h-3zM996,1047h3v18h-3zM999,1047h3v18h-3zM1002,1044h3v24h-3zM1005,1044h3v24h-3zM1008,1050h3v18h-3zM1011,1047h3v30h-3zM1014,1047h3v24h-3zM1017,1047h3v24h-3zM1020,1047h3v24h-3zM1023,1056h3v15h-3zM1026,1053h3v21h-3zM1029,1053h3v21h-3zM1032,1053h3v24h-3zM1035,1053h3v24h-3zM1038,1050h3v24h-3zM1041,1053h3v27h-3zM1044,1053h3v27h-3zM1047,1056h3v21h-3zM1050,1059h3v18h-3zM1053,1056h3v27h-3zM1056,1059h3v18h-3zM1059,1056h3v24h-3zM1062,1056h3v24h-3zM1065,1062h3v18h-3zM1068,1056h3v27h-3zM1071,1062h3v21h-3zM1074,1062h3v21h-3zM1077,1062h3v21h-3zM1080,1059h3v24h-3zM1083,1056h3v33h-3zM1086,1059h3v27h-3zM1089,1062h3v24h-3zM1092,1065h3v24h-3zM1095,1065h3v24h-3zM1098,1068h3v15h-3zM1101,1056h3v30h-3zM1104,1059h3v27h-3zM1107,1065h3v21h-3zM1110,1065h3v21h-3zM1113,1065h3v27h-3zM1116,1062h3v24h-3zM1119,1068h3v18h-3zM1122,1071h3v15h-3zM1125,1068h3v15h-3zM1128,1071h3v18h-3zM1131,1071h3v18h-3zM1134,1068h3v27h-3zM1137,1068h3v21h-3zM1140,1068h3v21h-3zM1143,1068h3v24h-3zM1146,1068h3v24h-3zM1149,1071h3v24h-3zM1152,1068h3v21h-3zM1155,1074h3v18h-3zM1158,1071h3v21h-3zM1161,1071h3v24h-3zM1164,1074h3v24h-3zM1167,1074h3v18h-3zM1170,1074h3v24h-3zM1173,1074h3v24h-3zM1176,1071h3v21h-3zM1179,1071h3v24h-3zM1182,1077h3v18h-3zM1185,1074h3v21h-3zM1188,1077h3v18h-3zM1191,1077h3v21h-3zM1194,1077h3v15h-3zM1197,1071h3v27h-3zM1200,1068h3v30h-3zM1203,1071h3v24h-3zM1206,1071h3v24h-3zM1209,1077h3v18h-3zM1212,1068h3v27h-3zM1215,1071h3v30h-3zM1218,1080h3v18h-3zM1221,1080h3v15h-3zM1224,1077h3v24h-3zM1227,1077h3v21h-3zM1230,1080h3v18h-3zM1233,1083h3v15h-3zM1236,1077h3v21h-3zM1239,1080h3v18h-3zM1242,1083h3v18h-3zM1245,1080h3v21h-3zM1248,1077h3v24h-3zM1251,1083h3v18h-3zM1254,1080h3v24h-3zM1257,1083h3v21h-3zM1260,1086h3v21h-3zM1263,1086h3v15h-3zM1266,1083h3v24h-3zM1269,1083h3v27h-3zM1272,1083h3v24h-3zM1275,1083h3v21h-3zM1278,1086h3v21h-3zM1281,1089h3v18h-3zM1284,1089h3v15h-3zM1287,1089h3v15h-3zM1290,1086h3v21h-3zM1293,1083h3v24h-3zM1296,1086h3v24h-3zM1299,1089h3v21h-3zM1302,1089h3v18h-3zM1305,1089h3v21h-3zM1308,1086h3v21h-3zM1311,1086h3v24h-3zM1314,1089h3v24h-3zM1317,1092h3v18h-3zM1320,1095h3v15h-3zM1323,1089h3v21h-3zM1326,1092h3v18h-3zM1329,1086h3v27h-3zM1332,1095h3v15h-3zM1335,1092h3v15h-3zM1338,1092h3v18h-3zM1341,1095h3v15h-3zM1344,1092h3v21h-3zM1347,1095h3v15h-3zM1350,1092h3v21h-3zM1353,1095h3v15h-3zM1356,1095h3v18h-3zM1359,1089h3v27h-3zM1362,1095h3v21h-3zM1365,1095h3v21h-3zM1368,1095h3v21h-3zM1371,1092h3v21h-3zM1374,1095h3v21h-3zM1377,1098h3v15h-3zM1380,1095h3v18h-3zM1383,1098h3v15h-3zM1386,1095h3v21h-3zM1389,1092h3v21h-3zM1392,1101h3v18h-3zM1395,1101h3v15h-3zM1398,1101h3v15h-3zM1401,1098h3v21h-3zM1404,1101h3v24h-3zM1407,1101h3v18h-3zM1410,1098h3v21h-3zM1413,1095h3v24h-3zM1416,1101h3v21h-3zM1419,1101h3v15h-3zM1422,1098h3v21h-3zM1425,1101h3v21h-3zM1428,1101h3v18h-3zM1431,1101h3v21h-3zM1434,1101h3v15h-3zM1437,1101h3v15h-3zM1440,1098h3v21h-3zM1443,1104h3v12h-3zM1446,1101h3v18h-3zM1449,1104h3v18h-3zM1452,1104h3v21h-3zM1455,1101h3v21h-3zM1458,1098h3v24h-3zM1461,1107h3v12h-3zM1464,1104h3v21h-3zM1467,1104h3v21h-3zM1470,1104h3v18h-3zM1473,1107h3v18h-3zM1476,1107h3v18h-3zM1479,1107h3v12h-3zM1482,1110h3v12h-3zM1485,1110h3v18h-3zM1488,1107h3v18h-3zM1491,1107h3v18h-3zM1494,1110h3v15h-3zM1497,1107h3v21h-3zM1500,1107h3v18h-3zM1503,1107h3v18h-3zM1506,1110h3v15h-3zM1509,1110h3v15h-3zM1512,1110h3v18h-3zM1515,1104h3v24h-3zM1518,1110h3v18h-3zM1521,1113h3v12h-3zM1524,1110h3v15h-3zM1527,1107h3v15h-3zM1530,1110h3v15h-3zM1533,1113h3v15h-3zM1536,1110h3v18h-3zM1539,1110h3v18h-3zM1542,1110h3v21h-3zM1545,1110h3v18h-3zM1548,1107h3v24h-3zM1551,1113h3v15h-3zM1554,1113h3v15h-3zM1557,1110h3v21h-3zM1560,1113h3v18h-3zM1563,1113h3v18h-3zM1566,1113h3v21h-3zM1569,1113h3v18h-3zM1572,1110h3v21h-3zM1575,1113h3v18h-3zM1578,1113h3v18h-3zM1581,1110h3v18h-3zM1584,1116h3v12h-3zM1587,1113h3v15h-3zM1590,1107h3v27h-3zM1593,1113h3v24h-3zM1596,1110h3v27h-3zM1599,1116h3v18h-3zM1602,1116h3v18h-3zM1605,1116h3v24h-3zM1608,1116h3v18h-3zM1611,1119h3v15h-3zM1614,1119h3v15h-3zM1617,1119h3v18h-3zM1620,1116h3v21h-3zM1623,1116h3v18h-3zM1626,1113h3v18h-3zM1629,1119h3v15h-3zM1632,1116h3v24h-3zM1635,1122h3v15h-3zM1638,1122h3v18h-3zM1641,1122h3v18h-3zM1644,1122h3v15h-3zM1647,1119h3v15h-3zM1650,1116h3v18h-3zM1653,1122h3v18h-3zM1656,1119h3v18h-3zM1659,1116h3v24h-3zM1662,1122h3v12h-3zM1665,1119h3v21h-3zM1668,1122h3v15h-3zM1671,1122h3v15h-3zM1674,1122h3v15h-3zM1677,1125h3v12h-3zM1680,1125h3v12h-3zM1683,1122h3v18h-3zM1686,1122h3v15h-3zM1689,1125h3v15h-3zM1692,1119h3v21h-3zM1695,1116h3v24h-3zM1698,1122h3v18h-3zM1701,1116h3v18h-3zM1704,1116h3v18h-3zM1707,1122h3v15h-3zM1710,1122h3v18h-3zM1713,1125h3v12h-3zM1716,1122h3v18h-3zM1719,1119h3v18h-3zM1722,1125h3v12h-3zM1725,1122h3v15h-3zM1728,1119h3v21h-3zM1731,1119h3v24h-3zM1734,1116h3v21h-3zM1737,1122h3v18h-3zM1740,1122h3v21h-3zM1743,1119h3v24h-3zM1746,1122h3v21h-3zM1749,1119h3v21h-3zM1752,1122h3v18h-3zM1755,1122h3v18h-3zM1758,1125h3v12h-3zM1761,1122h3v15h-3zM1764,1128h3v15h-3zM1767,1125h3v15h-3zM1770,1125h3v18h-3zM1773,1122h3v18h-3zM1776,1122h3v24h-3zM1779,1125h3v15h-3zM1782,1125h3v15h-3zM1785,1125h3v18h-3zM1788,1128h3v18h-3zM1791,1125h3v15h-3zM1794,1128h3v15h-3zM1797,1128h3v15h-3zM1800,1119h3v21h-3zM1803,1122h3v18h-3zM1806,1128h3v15h-3zM1809,1125h3v15h-3zM1812,1122h3v18h-3zM1815,1128h3v18h-3zM1818,1125h3v21h-3zM1821,1122h3v21h-3zM1824,1122h3v24h-3zM1827,1128h3v15h-3zM1830,1128h3v18h-3zM1833,1125h3v21h-3zM1836,1122h3v27h-3zM1839,1122h3v24h-3zM1842,1125h3v18h-3zM1845,1119h3v33h-3zM1848,1122h3v24h-3zM1851,1128h3v15h-3zM1854,1125h3v18h-3zM1857,1128h3v18h-3zM1860,1125h3v18h-3zM1863,1131h3v18h-3zM1866,1131h3v12h-3zM1869,1128h3v21h-3zM1872,1122h3v21h-3zM1875,1128h3v15h-3zM1878,1128h3v15h-3zM1881,1128h3v15h-3zM1884,1128h3v15h-3zM1887,1128h3v18h-3zM1890,1131h3v18h-3zM1893,1128h3v24h-3zM1896,1125h3v21h-3zM1899,1131h3v15h-3zM1902,1131h3v18h-3zM1905,1128h3v18h-3zM1908,1128h3v18h-3zM1911,1131h3v15h-3zM1914,1131h3v18h-3zM1917,1131h3v18h-3zM1920,1131h3v15h-3zM1923,1131h3v18h-3zM1926,1131h3v15h-3zM1929,1134h3v12h-3zM1932,1128h3v21h-3zM1935,1131h3v21h-3zM1938,1131h3v15h-3zM1941,1134h3v12h-3zM1944,1131h3v15h-3zM1947,1128h3v18h-3zM1950,1134h3v12h-3zM1953,1134h3v15h-3zM1956,1131h3v15h-3zM1959,1134h3v15h-3zM1962,1131h3v18h-3zM1965,1134h3v9h-3z"/>
<path fill="#FFFF00" d="M162,1233h3v21h-3zM165,1230h3v24h-3zM168,1233h3v24h-3zM171,1236h3v21h-3zM174,1233h3v21h-3zM177,1230h3v24h-3zM180,1227h3v27h-3zM183,1227h3v27h-3zM186,1233h3v21h-3zM189,1230h3v24h-3zM192,1230h3v24h-3zM195,1230h3v24h-3zM198,1230h3v21h-3zM201,1224h3v30h-3zM204,1227h3v24h-3zM207,1230h3v21h-3zM210,1230h3v24h-3zM213,1227h3v24h-3zM216,1230h3v21h-3zM219,1227h3v21h-3zM222,1227h3v21h-3zM225,1224h3v24h-3zM228,1224h3v18h-3zM231,1221h3v21h-3zM234,1224h3v21h-3zM237,1224h3v27h-3zM240,1224h3v24h-3zM243,1218h3v27h-3zM246,1212h3v36h-3zM249,1215h3v33h-3zM252,1221h3v21h-3zM255,1218h3v27h-3zM258,1215h3v27h-3zM261,1215h3v27h-3zM264,1224h3v15h-3zM267,1218h3v21h-3zM270,1218h3v21h-3zM273,1215h3v24h-3zM276,1215h3v24h-3zM279,1212h3v33h-3zM282,1212h3v30h-3zM285,1212h3v30h-3zM288,1212h3v24h-3zM291,1212h3v21h-3zM294,1209h3v27h-3zM297,1215h3v27h-3zM300,1215h3v18h-3zM303,1209h3v24h-3zM306,1206h3v27h-3zM309,1206h3v27h-3zM312,1206h3v27h-3zM315,1212h3v24h-3zM318,1209h3v24h-3zM321,1203h3v27h-3zM324,1209h3v21h-3zM327,1203h3v27h-3zM330,1206h3v21h-3zM333,1206h3v18h-3zM336,1206h3v18h-3zM339,1203h3v21h-3zM342,1206h3v18h-3zM345,1200h3v24h-3zM348,1200h3v27h-3zM351,1203h3v21h-3zM354,1203h3v18h-3zM357,1197h3v24h-3zM360,1200h3v21h-3zM363,1200h3v18h-3zM366,1197h3v15h-3zM369,1194h3v21h-3zM372,1182h3v30h-3zM375,1182h3v30h-3zM378,1176h3v30h-3zM381,1170h3v36h-3zM384,1170h3v24h-3zM387,1170h3v30h-3zM390,1161h3v33h-3zM393,1155h3v21h-3zM396,1149h3v27h-3zM399,1143h3v27h-3zM402,1137h3v27h-3zM405,1131h3v27h-3zM408,1125h3v30h-3zM411,1122h3v36h-3zM414,1119h3v27h-3zM417,1116h3v27h-3zM420,1113h3v27h-3zM423,1110h3v24h-3zM426,1107h3v27h-3zM429,1104h3v27h-3zM432,1104h3v24h-3zM435,1104h3v27h-3zM438,1101h3v21h-3zM441,1098h3v24h-3zM444,1092h3v30h-3zM447,1095h3v24h-3zM450,1095h3v21h-3zM453,1095h3v24h-3zM456,1095h3v21h-3zM459,1095h3v15h-3zM462,1092h3v24h-3zM465,1086h3v24h-3zM468,1086h3v27h-3zM471,1083h3v27h-3zM474,1077h3v30h-3zM477,1077h3v33h-3zM480,1074h3v24h-3zM483,1071h3v18h-3zM483,1092h3v3h-3zM486,1068h3v21h-3zM489,1065h3v24h-3zM492,1056h3v27h-3zM495,1053h3v30h-3zM498,1053h3v21h-3zM501,1050h3v21h-3zM504,1047h3v21h-3zM507,1047h3v18h-3zM510,1047h3v18h-3zM513,1044h3v21h-3zM516,1041h3v27h-3zM519,1041h3v21h-3zM522,1035h3v27h-3zM525,1023h3v36h-3zM528,1020h3v36h-3zM531,1020h3v42h-3zM534,1026h3v36h-3zM537,1041h3v27h-3zM540,1044h3v21h-3zM543,1047h3v24h-3zM546,1044h3v27h-3zM549,1041h3v27h-3zM552,1047h3v21h-3zM555,1050h3v21h-3zM558,1050h3v21h-3zM561,1050h3v24h-3zM564,1053h3v21h-3zM567,1053h3v21h-3zM570,1053h3v21h-3zM573,1053h3v24h-3zM576,1056h3v24h-3zM579,1056h3v24h-3zM582,1059h3v21h-3zM585,1059h3v24h-3zM588,1059h3v27h-3zM591,1059h3v24h-3zM594,1062h3v21h-3zM597,1062h3v21h-3zM600,1065h3v21h-3zM603,1065h3v24h-3zM606,1065h3v30h-3zM609,1068h3v33h-3zM612,1068h3v30h-3zM615,1077h3v18h-3zM618,1077h3v18h-3zM621,1077h3v24h-3zM624,1080h3v24h-3zM627,1080h3v24h-3zM630,1086h3v27h-3zM633,1086h3v24h-3zM636,1086h3v27h-3zM639,1095h3v21h-3zM642,1098h3v18h-3zM645,1092h3v30h-3zM648,1089h3v33h-3zM651,1098h3v27h-3zM654,1101h3v27h-3zM657,1104h3v24h-3zM660,1101h3v24h-3zM663,1104h3v27h-3zM666,1104h3v24h-3zM669,1107h3v24h-3zM672,1107h3v24h-3zM675,1113h3v18h-3zM678,1113h3v24h-3zM681,1116h3v21h-3zM684,1113h3v27h-3zM687,1119h3v27h-3zM690,1119h3v24h-3zM693,1128h3v21h-3zM696,1125h3v24h-3zM699,1128h3v21h-3zM702,1131h3v21h-3zM705,1134h3v18h-3zM708,1134h3v21h-3zM711,1134h3v21h-3zM714,1128h3v30h-3zM717,1131h3v30h-3zM720,1137h3v21h-3zM723,1134h3v24h-3zM726,1134h3v27h-3zM729,1140h3v18h-3zM732,1140h3v24h-3zM735,1137h3v27h-3zM738,1134h3v36h-3zM741,1143h3v24h-3zM744,1143h3v21h-3zM747,1143h3v27h-3zM750,1146h3v21h-3zM753,1143h3v24h-3zM756,1149h3v21h-3zM759,1152h3v18h-3zM762,1146h3v24h-3zM765,1146h3v30h-3zM768,1149h3v27h-3zM771,1149h3v27h-3zM774,1146h3v33h-3zM777,1152h3v21h-3zM780,1155h3v21h-3zM783,1155h3v27h-3zM786,1152h3v27h-3zM789,1158h3v21h-3zM792,1158h3v24h-3zM795,1158h3v21h-3zM798,1161h3v18h-3zM801,1161h3v21h-3zM804,1161h3v24h-3zM807,1158h3v24h-3zM810,1164h3v18h-3zM813,1164h3v21h-3zM816,1164h3v27h-3zM819,1164h3v24h-3zM822,1167h3v21h-3zM825,1170h3v21h-3zM828,1170h3v24h-3zM831,1173h3v21h-3zM834,1173h3v24h-3zM837,1167h3v30h-3zM840,1173h3v21h-3zM843,1176h3v18h-3zM846,1176h3v21h-3zM849,1176h3v21h-3zM852,1176h3v27h-3zM855,1176h3v24h-3zM858,1182h3v18h-3zM861,1179h3v24h-3zM864,1179h3v24h-3zM867,1173h3v27h-3zM870,1182h3v21h-3zM873,1179h3v24h-3zM876,1179h3v24h-3zM879,1182h3v21h-3zM882,1182h3v24h-3zM885,1182h3v24h-3zM888,1185h3v24h-3zM891,1182h3v24h-3zM894,1182h3v21h-3zM897,1185h3v18h-3zM900,1185h3v18h-3zM903,1185h3v18h-3zM906,1185h3v21h-3zM909,1185h3v21h-3zM912,1185h3v21h-3zM915,1182h3v21h-3zM918,1176h3v33h-3zM921,1182h3v21h-3zM924,1185h3v21h-3zM927,1185h3v21h-3zM930,1185h3v18h-3zM933,1182h3v21h-3zM936,1185h3v18h-3zM939,1179h3v27h-3zM942,1179h3v24h-3zM945,1182h3v24h-3zM948,1179h3v24h-3zM951,1182h3v15h-3zM954,1182h3v18h-3zM957,1182h3v18h-3zM960,1182h3v18h-3zM963,1182h3v18h-3zM966,1182h3v21h-3zM969,1173h3v33h-3zM972,1173h3v30h-3zM975,1185h3v18h-3zM978,1182h3v21h-3zM981,1185h3v21h-3zM984,1185h3v21h-3zM987,1179h3v27h-3zM990,1188h3v18h-3zM993,1188h3v18h-3zM996,1188h3v27h-3zM999,1188h3v24h-3zM1002,1191h3v15h-3zM1005,1188h3v21h-3zM1008,1191h3v18h-3zM1011,1191h3v18h-3zM1014,1191h3v21h-3zM1017,1188h3v21h-3zM1020,1188h3v24h-3zM1023,1185h3v30h-3zM1026,1191h3v24h-3zM1029,1191h3v24h-3zM1032,1194h3v21h-3zM1035,1194h3v21h-3zM1038,1191h3v24h-3zM1041,1191h3v24h-3zM1044,1194h3v21h-3zM1047,1197h3v24h-3zM1050,1197h3v21h-3zM1053,1194h3v24h-3zM1056,1200h3v18h-3zM1059,1203h3v18h-3zM1062,1203h3v15h-3zM1065,1200h3v18h-3zM1068,1200h3v21h-3zM1071,1200h3v21h-3zM1074,1197h3v21h-3zM1077,1203h3v24h-3zM1080,1203h3v21h-3zM1083,1203h3v24h-3zM1086,1203h3v27h-3zM1089,1203h3v21h-3zM1092,1203h3v21h-3zM1095,1203h3v21h-3zM1098,1206h3v21h-3zM1101,1209h3v15h-3zM1104,1206h3v21h-3zM1107,1206h3v24h-3zM1110,1206h3v21h-3zM1113,1206h3v27h-3zM1116,1209h3v18h-3zM1119,1206h3v21h-3zM1122,1206h3v24h-3zM1125,1206h3v21h-3zM1128,1206h3v21h-3zM1131,1206h3v21h-3zM1134,1209h3v18h-3zM1137,1206h3v27h-3zM1140,1206h3v24h-3zM1143,1209h3v21h-3zM1146,1212h3v21h-3zM1149,1209h3v27h-3zM1152,1212h3v18h-3zM1155,1209h3v24h-3zM1158,1209h3v18h-3zM1161,1212h3v21h-3zM1164,1206h3v27h-3zM1167,1209h3v27h-3zM1170,1215h3v15h-3zM1173,1212h3v21h-3zM1176,1212h3v21h-3zM1179,1209h3v21h-3zM1182,1209h3v21h-3zM1185,1209h3v21h-3zM1188,1212h3v21h-3zM1191,1215h3v24h-3zM1194,1209h3v27h-3zM1197,1209h3v18h-3zM1200,1209h3v21h-3zM1203,1209h3v21h-3zM1206,1209h3v18h-3zM1209,1209h3v15h-3zM1212,1209h3v18h-3zM1215,1212h3v15h-3zM1218,1212h3v21h-3zM1221,1206h3v24h-3zM1224,1203h3v30h-3zM1227,1203h3v27h-3zM1230,1212h3v15h-3zM1233,1209h3v21h-3zM1236,1212h3v18h-3zM1239,1212h3v21h-3zM1242,1212h3v18h-3zM1245,1212h3v18h-3zM1248,1212h3v21h-3zM1251,1212h3v18h-3zM1254,1215h3v18h-3zM1257,1212h3v24h-3zM1260,1209h3v27h-3zM1263,1215h3v18h-3zM1266,1215h3v21h-3zM1269,1215h3v21h-3zM1272,1209h3v33h-3zM1275,1212h3v24h-3zM1278,1215h3v27h-3zM1281,1215h3v21h-3zM1284,1218h3v18h-3zM1287,1218h3v18h-3zM1290,1215h3v21h-3zM1293,1218h3v18h-3zM1296,1215h3v21h-3zM1299,1221h3v18h-3zM1302,1224h3v18h-3zM1305,1215h3v30h-3zM1308,1218h3v21h-3zM1311,1218h3v21h-3zM1314,1215h3v24h-3zM1317,1215h3v24h-3zM1320,1221h3v18h-3zM1323,1221h3v18h-3zM1326,1221h3v18h-3zM1329,1221h3v18h-3zM1332,1218h3v24h-3zM1335,1218h3v30h-3zM1338,1224h3v21h-3zM1341,1221h3v24h-3zM1344,1221h3v24h-3zM1347,1221h3v21h-3zM1350,1221h3v21h-3zM1353,1224h3v18h-3zM1356,1224h3v21h-3zM1359,1224h3v18h-3zM1362,1218h3v24h-3zM1365,1224h3v18h-3zM1368,1224h3v18h-3zM1371,1221h3v21h-3zM1374,1224h3v18h-3zM1377,1224h3v24h-3zM1380,1224h3v27h-3zM1383,1224h3v27h-3zM1386,1224h3v21h-3zM1389,1224h3v21h-3zM1392,1221h3v24h-3zM1395,1221h3v24h-3zM1398,1230h3v18h-3zM1401,1221h3v27h-3zM1404,1227h3v21h-3zM1407,1224h3v21h-3zM1410,1224h3v21h-3zM1413,1221h3v24h-3zM1416,1224h3v18h-3zM1419,1227h3v21h-3zM1422,1227h3v18h-3zM1425,1227h3v27h-3zM1428,1221h3v33h-3zM1431,1224h3v27h-3zM1434,1224h3v21h-3zM1437,1224h3v30h-3zM1440,1221h3v27h-3zM1443,1230h3v15h-3zM1446,1230h3v15h-3zM1449,1227h3v21h-3zM1452,1227h3v21h-3zM1455,1227h3v21h-3zM1458,1230h3v21h-3zM1461,1230h3v18h-3zM1464,1233h3v15h-3zM1467,1230h3v21h-3zM1470,1230h3v21h-3zM1473,1230h3v21h-3zM1476,1230h3v24h-3zM1479,1230h3v18h-3zM1482,1233h3v21h-3zM1485,1233h3v18h-3zM1488,1233h3v15h-3zM1491,1230h3v21h-3zM1494,1230h3v18h-3zM1497,1230h3v21h-3zM1500,1233h3v18h-3zM1503,1230h3v21h-3zM1506,1230h3v21h-3zM1509,1230h3v24h-3zM1512,1230h3v21h-3zM1515,1230h3v18h-3zM1518,1230h3v21h-3zM1521,1233h3v15h-3zM1524,1233h3v18h-3zM1527,1233h3v24h-3zM1530,1233h3v15h-3zM1533,1233h3v21h-3zM1536,1236h3v18h-3zM1539,1233h3v21h-3zM1542,1236h3v18h-3zM1545,1236h3v15h-3zM1548,1236h3v15h-3zM1551,1230h3v27h-3zM1554,1233h3v21h-3zM1557,1233h3v18h-3zM1560,1233h3v21h-3zM1563,1233h3v18h-3zM1566,1233h3v21h-3zM1569,1233h3v21h-3zM1572,1236h3v18h-3zM1575,1236h3v18h-3zM1578,1236h3v18h-3zM1581,1239h3v15h-3zM1584,1239h3v18h-3zM1587,1236h3v24h-3zM1590,1230h3v27h-3zM1593,1230h3v30h-3zM1596,1230h3v33h-3zM1599,1236h3v21h-3zM1602,1230h3v24h-3zM1605,1227h3v27h-3zM1608,1230h3v27h-3zM1611,1227h3v33h-3zM1614,1233h3v24h-3zM1617,1239h3v18h-3zM1620,1233h3v27h-3zM1623,1239h3v18h-3zM1626,1239h3v15h-3zM1629,1236h3v15h-3zM1632,1236h3v18h-3zM1635,1236h3v27h-3zM1638,1236h3v21h-3zM1641,1239h3v18h-3zM1644,1239h3v21h-3zM1647,1236h3v21h-3zM1650,1236h3v27h-3zM1653,1236h3v24h-3zM1656,1239h3v18h-3zM1659,1236h3v18h-3zM1662,1236h3v18h-3zM1665,1239h3v18h-3zM1668,1236h3v21h-3zM1671,1233h3v24h-3zM1674,1233h3v24h-3zM1677,1239h3v18h-3zM1680,1239h3v21h-3zM1683,1239h3v24h-3zM1686,1239h3v21h-3zM1689,1239h3v18h-3zM1692,1236h3v21h-3zM1695,1242h3v18h-3zM1698,1236h3v24h-3zM1701,1239h3v24h-3zM1704,1239h3v27h-3zM1707,1239h3v21h-3zM1710,1239h3v21h-3zM1713,1239h3v24h-3zM1716,1242h3v21h-3zM1719,1242h3v18h-3zM1722,1242h3v21h-3zM1725,1242h3v18h-3zM1728,1236h3v24h-3zM1731,1242h3v24h-3zM1734,1242h3v21h-3zM1737,1242h3v21h-3zM1740,1242h3v21h-3zM1743,1242h3v24h-3zM1746,1242h3v21h-3zM1749,1242h3v21h-3zM1752,1242h3v18h-3zM1755,1242h3v18h-3zM1758,1242h3v18h-3zM1761,1239h3v21h-3zM1764,1236h3v21h-3zM1767,1236h3v24h-3zM1770,1239h3v21h-3zM1773,1242h3v18h-3zM1776,1242h3v21h-3zM1779,1242h3v24h-3zM1782,1242h3v24h-3zM1785,1242h3v21h-3zM1788,1242h3v21h-3zM1791,1239h3v24h-3zM1794,1242h3v18h-3zM1797,1242h3v18h-3zM1800,1242h3v21h-3zM1803,1239h3v24h-3zM1806,1242h3v18h-3zM1809,1242h3v24h-3zM1812,1242h3v21h-3zM1815,1245h3v15h-3zM1818,1242h3v21h-3zM1821,1242h3v18h-3zM1824,1245h3v21h-3zM1827,1245h3v15h-3zM1830,1242h3v18h-3zM1833,1239h3v24h-3zM1836,1242h3v18h-3zM1839,1242h3v21h-3zM1842,1239h3v27h-3zM1845,1245h3v21h-3zM1848,1245h3v24h-3zM1851,1242h3v21h-3zM1854,1242h3v21h-3zM1857,1245h3v18h-3zM1860,1242h3v21h-3zM1863,1242h3v18h-3zM1866,1239h3v27h-3zM1869,1242h3v21h-3zM1872,1245h3v18h-3zM1875,1245h3v21h-3zM1878,1245h3v18h-3zM1881,1245h3v18h-3zM1884,1242h3v21h-3zM1887,1239h3v27h-3zM1890,1242h3v21h-3zM1893,1245h3v18h-3zM1896,1245h3v21h-3zM1899,1242h3v21h-3zM1902,1242h3v24h-3zM1905,1245h3v24h-3zM1908,1245h3v18h-3zM1911,1245h3v15h-3zM1914,1242h3v21h-3zM1917,1242h3v21h-3zM1920,1245h3v18h-3zM1923,1245h3v21h-3zM1926,1242h3v21h-3zM1929,1239h3v21h-3zM1932,1242h3v21h-3zM1935,1245h3v18h-3zM1938,1239h3v24h-3zM1941,1239h3v24h-3zM1944,1242h3v18h-3zM1947,1245h3v15h-3zM1950,1245h3v21h-3zM1953,1245h3v18h-3zM1956,1242h3v24h-3zM1959,1242h3v24h-3zM1962,1245h3v12h-3zM1965,1248h3v15h-3z"/>
<path fill="#00B0F0" d="M162,1290h3v12h-3zM165,1290h3v15h-3zM168,1284h3v24h-3zM171,1290h3v12h-3zM174,1287h3v12h-3zM177,1284h3v18h-3zM180,1287h3v12h-3zM183,1287h3v12h-3zM186,1287h3v18h-3zM189,1287h3v12h-3zM192,1287h3v15h-3zM195,1284h3v15h-3zM198,1284h3v15h-3zM201,1284h3v15h-3zM204,1281h3v18h-3zM207,1281h3v15h-3zM210,1278h3v18h-3zM213,1278h3v18h-3zM216,1281h3v15h-3zM219,1281h3v21h-3zM222,1281h3v18h-3zM225,1278h3v21h-3zM228,1281h3v15h-3zM231,1281h3v15h-3zM234,1281h3v15h-3zM237,1278h3v21h-3zM240,1281h3v12h-3zM243,1278h3v15h-3zM246,1281h3v18h-3zM249,1278h3v15h-3zM252,1278h3v15h-3zM255,1278h3v12h-3zM258,1281h3v12h-3zM261,1278h3v12h-3zM264,1275h3v15h-3zM267,1278h3v21h-3zM270,1278h3v12h-3zM273,1275h3v15h-3zM276,1272h3v18h-3zM279,1275h3v15h-3zM282,1275h3v12h-3zM285,1275h3v12h-3zM288,1275h3v12h-3zM291,1275h3v12h-3zM294,1272h3v15h-3zM297,1275h3v9h-3zM300,1275h3v12h-3zM303,1275h3v12h-3zM306,1269h3v18h-3zM309,1269h3v18h-3zM312,1272h3v12h-3zM315,1272h3v15h-3zM318,1269h3v18h-3zM321,1263h3v24h-3zM324,1269h3v15h-3zM327,1269h3v12h-3zM330,1269h3v12h-3zM333,1266h3v15h-3zM336,1266h3v18h-3zM339,1266h3v21h-3zM342,1263h3v12h-3zM345,1263h3v12h-3zM348,1263h3v21h-3zM351,1263h3v15h-3zM354,1260h3v18h-3zM357,1257h3v18h-3zM360,1257h3v18h-3zM363,1254h3v18h-3zM366,1254h3v15h-3zM369,1251h3v24h-3zM372,1251h3v15h-3zM375,1242h3v24h-3zM378,1239h3v18h-3zM381,1239h3v15h-3zM384,1233h3v21h-3zM387,1230h3v18h-3zM390,1227h3v18h-3zM393,1218h3v27h-3zM396,1218h3v18h-3zM399,1215h3v21h-3zM402,1215h3v18h-3zM405,1200h3v27h-3zM408,1203h3v24h-3zM411,1200h3v27h-3zM414,1203h3v21h-3zM417,1197h3v21h-3zM420,1200h3v21h-3zM423,1200h3v21h-3zM426,1197h3v18h-3zM429,1200h3v18h-3zM432,1200h3v15h-3zM435,1200h3v21h-3zM438,1200h3v18h-3zM441,1194h3v24h-3zM444,1194h3v21h-3zM447,1197h3v21h-3zM450,1194h3v21h-3zM453,1188h3v30h-3zM456,1191h3v21h-3zM459,1194h3v18h-3zM462,1200h3v15h-3zM465,1197h3v18h-3zM468,1197h3v12h-3zM471,1194h3v21h-3zM474,1194h3v24h-3zM477,1197h3v15h-3zM480,1197h3v18h-3zM483,1194h3v18h-3zM486,1197h3v15h-3zM489,1197h3v18h-3zM492,1197h3v15h-3zM495,1197h3v15h-3zM498,1194h3v18h-3zM501,1191h3v24h-3zM504,1191h3v27h-3zM507,1194h3v18h-3zM510,1194h3v18h-3zM513,1191h3v24h-3zM516,1194h3v21h-3zM519,1194h3v21h-3zM522,1200h3v15h-3zM525,1200h3v21h-3zM528,1200h3v21h-3zM531,1200h3v24h-3zM534,1197h3v21h-3zM537,1200h3v21h-3zM540,1200h3v21h-3zM543,1200h3v21h-3zM546,1203h3v18h-3zM549,1206h3v18h-3zM552,1197h3v21h-3zM555,1203h3v15h-3zM558,1206h3v15h-3zM561,1203h3v18h-3zM564,1206h3v18h-3zM567,1206h3v21h-3zM570,1206h3v18h-3zM573,1203h3v24h-3zM576,1206h3v21h-3zM579,1206h3v21h-3zM582,1206h3v24h-3zM585,1209h3v18h-3zM588,1209h3v18h-3zM591,1209h3v21h-3zM594,1203h3v27h-3zM597,1209h3v18h-3zM600,1206h3v21h-3zM603,1209h3v24h-3zM606,1215h3v12h-3zM609,1209h3v21h-3zM612,1212h3v18h-3zM615,1212h3v18h-3zM618,1209h3v21h-3zM621,1212h3v18h-3zM624,1212h3v18h-3zM627,1212h3v18h-3zM630,1209h3v24h-3zM633,1215h3v21h-3zM636,1218h3v12h-3zM639,1218h3v12h-3zM642,1218h3v15h-3zM645,1218h3v15h-3zM648,1218h3v15h-3zM651,1215h3v18h-3zM654,1218h3v15h-3zM657,1215h3v18h-3zM660,1215h3v21h-3zM663,1218h3v15h-3zM666,1215h3v21h-3zM669,1215h3v18h-3zM672,1212h3v21h-3zM675,1215h3v21h-3zM678,1218h3v21h-3zM681,1215h3v21h-3zM684,1215h3v24h-3zM687,1215h3v21h-3zM690,1215h3v21h-3zM693,1218h3v18h-3zM696,1221h3v18h-3zM699,1221h3v15h-3zM702,1224h3v18h-3zM705,1224h3v15h-3zM708,1224h3v18h-3zM711,1224h3v18h-3zM714,1224h3v15h-3zM717,1224h3v18h-3zM720,1224h3v18h-3zM723,1227h3v21h-3zM726,1221h3v21h-3zM729,1224h3v21h-3zM732,1227h3v18h-3zM735,1227h3v15h-3zM738,1227h3v18h-3zM741,1230h3v15h-3zM744,1227h3v15h-3zM747,1227h3v15h-3zM750,1224h3v21h-3zM753,1224h3v24h-3zM756,1227h3v18h-3zM759,1227h3v18h-3zM762,1230h3v15h-3zM765,1227h3v18h-3zM768,1227h3v18h-3zM771,1227h3v24h-3zM774,1227h3v30h-3zM777,1230h3v21h-3zM780,1230h3v18h-3zM783,1233h3v15h-3zM786,1224h3v27h-3zM789,1230h3v21h-3zM792,1233h3v21h-3zM795,1233h3v18h-3zM798,1233h3v21h-3zM801,1236h3v15h-3zM804,1239h3v15h-3zM807,1239h3v15h-3zM810,1242h3v12h-3zM813,1239h3v15h-3zM816,1236h3v24h-3zM819,1239h3v15h-3zM822,1242h3v15h-3zM825,1242h3v15h-3zM828,1242h3v18h-3zM831,1242h3v15h-3zM834,1242h3v15h-3zM837,1242h3v18h-3zM840,1242h3v24h-3zM843,1242h3v18h-3zM846,1242h3v18h-3zM849,1245h3v18h-3zM852,1245h3v18h-3zM855,1242h3v21h-3zM858,1239h3v21h-3zM861,1242h3v21h-3zM864,1239h3v21h-3zM867,1239h3v27h-3zM870,1245h3v24h-3zM873,1245h3v18h-3zM876,1245h3v21h-3zM879,1242h3v21h-3zM882,1242h3v18h-3zM885,1242h3v21h-3zM888,1239h3v24h-3zM891,1248h3v21h-3zM894,1242h3v24h-3zM897,1251h3v12h-3zM900,1248h3v15h-3zM903,1248h3v21h-3zM906,1245h3v21h-3zM909,1242h3v24h-3zM912,1248h3v18h-3zM915,1248h3v18h-3zM918,1242h3v24h-3zM921,1245h3v21h-3zM924,1242h3v27h-3zM927,1248h3v18h-3zM930,1248h3v18h-3zM933,1251h3v15h-3zM936,1251h3v21h-3zM939,1251h3v15h-3zM942,1254h3v15h-3zM945,1254h3v12h-3zM948,1251h3v18h-3zM951,1248h3v24h-3zM954,1248h3v18h-3zM957,1248h3v15h-3zM960,1248h3v18h-3zM963,1251h3v15h-3zM966,1248h3v18h-3zM969,1251h3v15h-3zM972,1248h3v21h-3zM975,1254h3v15h-3zM978,1254h3v15h-3zM981,1254h3v18h-3zM984,1251h3v21h-3zM987,1251h3v21h-3zM990,1254h3v21h-3zM993,1254h3v21h-3zM996,1257h3v15h-3zM999,1254h3v15h-3zM1002,1257h3v12h-3zM1005,1257h3v15h-3zM1008,1257h3v15h-3zM1011,1254h3v24h-3zM1014,1257h3v15h-3zM1017,1257h3v15h-3zM1020,1260h3v18h-3zM1023,1254h3v24h-3zM1026,1257h3v15h-3zM1029,1257h3v18h-3zM1032,1260h3v15h-3zM1035,1263h3v12h-3zM1038,1260h3v21h-3zM1041,1260h3v15h-3zM1044,1260h3v18h-3zM1047,1263h3v15h-3zM1050,1263h3v15h-3zM1053,1263h3v15h-3zM1056,1263h3v15h-3zM1059,1260h3v15h-3zM1062,1260h3v24h-3zM1065,1263h3v18h-3zM1068,1266h3v12h-3zM1071,1260h3v21h-3zM1074,1263h3v18h-3zM1077,1263h3v21h-3zM1080,1266h3v18h-3zM1083,1266h3v18h-3zM1086,1266h3v15h-3zM1089,1266h3v15h-3zM1092,1269h3v15h-3zM1095,1269h3v18h-3zM1098,1266h3v18h-3zM1101,1269h3v12h-3zM1104,1260h3v24h-3zM1107,1266h3v18h-3zM1110,1269h3v12h-3zM1113,1269h3v12h-3zM1116,1266h3v18h-3zM1119,1266h3v18h-3zM1122,1269h3v15h-3zM1125,1263h3v21h-3zM1128,1263h3v21h-3zM1131,1266h3v18h-3zM1134,1269h3v15h-3zM1137,1269h3v15h-3zM1140,1266h3v18h-3zM1143,1269h3v15h-3zM1146,1263h3v21h-3zM1149,1266h3v21h-3zM1152,1269h3v18h-3zM1155,1272h3v15h-3zM1158,1269h3v18h-3zM1161,1272h3v15h-3zM1164,1272h3v15h-3zM1167,1269h3v18h-3zM1170,1275h3v12h-3zM1173,1275h3v15h-3zM1176,1269h3v21h-3zM1179,1278h3v18h-3zM1182,1275h3v15h-3zM1185,1272h3v18h-3zM1188,1275h3v12h-3zM1191,1272h3v21h-3zM1194,1275h3v18h-3zM1197,1278h3v12h-3zM1200,1272h3v18h-3zM1203,1278h3v15h-3zM1206,1278h3v15h-3zM1209,1278h3v12h-3zM1212,1278h3v15h-3zM1215,1275h3v18h-3zM1218,1275h3v18h-3zM1221,1275h3v18h-3zM1224,1272h3v18h-3zM1227,1275h3v18h-3zM1230,1278h3v15h-3zM1233,1275h3v18h-3zM1236,1275h3v18h-3zM1239,1275h3v21h-3zM1242,1278h3v18h-3zM1245,1272h3v27h-3zM1248,1275h3v21h-3zM1251,1275h3v18h-3zM1254,1278h3v15h-3zM1257,1275h3v18h-3zM1260,1272h3v24h-3zM1263,1278h3v15h-3zM1266,1278h3v21h-3zM1269,1278h3v12h-3zM1272,1278h3v12h-3zM1275,1278h3v21h-3zM1278,1275h3v21h-3zM1281,1281h3v15h-3zM1284,1281h3v15h-3zM1287,1284h3v15h-3zM1290,1281h3v15h-3zM1293,1281h3v15h-3zM1296,1278h3v21h-3zM1299,1281h3v15h-3zM1302,1284h3v12h-3zM1305,1281h3v15h-3zM1308,1284h3v12h-3zM1311,1281h3v18h-3zM1314,1284h3v15h-3zM1317,1284h3v15h-3zM1320,1284h3v15h-3zM1323,1281h3v18h-3zM1326,1284h3v15h-3zM1329,1281h3v18h-3zM1332,1287h3v12h-3zM1335,1284h3v15h-3zM1338,1287h3v12h-3zM1341,1287h3v12h-3zM1344,1284h3v15h-3zM1347,1287h3v18h-3zM1350,1287h3v18h-3zM1353,1287h3v18h-3zM1356,1287h3v18h-3zM1359,1287h3v18h-3zM1362,1287h3v18h-3zM1365,1281h3v24h-3zM1368,1287h3v15h-3zM1371,1287h3v15h-3zM1374,1287h3v18h-3zM1377,1290h3v12h-3zM1380,1287h3v18h-3zM1383,1287h3v18h-3zM1386,1287h3v18h-3zM1389,1293h3v9h-3zM1392,1290h3v12h-3zM1395,1290h3v12h-3zM1398,1290h3v15h-3zM1401,1290h3v18h-3zM1404,1284h3v21h-3zM1407,1290h3v18h-3zM1410,1287h3v21h-3zM1413,1287h3v21h-3zM1416,1290h3v15h-3zM1419,1290h3v15h-3zM1422,1293h3v18h-3zM1425,1290h3v15h-3zM1428,1290h3v18h-3zM1431,1290h3v18h-3zM1434,1284h3v21h-3zM1437,1290h3v15h-3zM1440,1290h3v18h-3zM1443,1290h3v18h-3zM1446,1290h3v18h-3zM1449,1290h3v15h-3zM1452,1287h3v21h-3zM1455,1290h3v18h-3zM1458,1293h3v15h-3zM1461,1296h3v12h-3zM1464,1296h3v12h-3zM1467,1293h3v15h-3zM1470,1293h3v15h-3zM1473,1290h3v15h-3zM1476,1290h3v15h-3zM1479,1296h3v12h-3zM1482,1293h3v18h-3zM1485,1293h3v21h-3zM1488,1293h3v15h-3zM1491,1293h3v18h-3zM1494,1290h3v21h-3zM1497,1293h3v15h-3zM1500,1290h3v27h-3zM1503,1293h3v18h-3zM1506,1293h3v18h-3zM1509,1293h3v18h-3zM1512,1293h3v18h-3zM1515,1296h3v15h-3zM1518,1293h3v18h-3zM1521,1296h3v15h-3zM1524,1287h3v24h-3zM1527,1296h3v15h-3zM1530,1299h3v12h-3zM1533,1299h3v15h-3zM1536,1296h3v18h-3zM1539,1296h3v18h-3zM1542,1296h3v15h-3zM1545,1296h3v15h-3zM1548,1299h3v12h-3zM1551,1299h3v12h-3zM1554,1299h3v15h-3zM1557,1299h3v12h-3zM1560,1293h3v18h-3zM1563,1299h3v15h-3zM1566,1299h3v12h-3zM1569,1302h3v12h-3zM1572,1299h3v18h-3zM1575,1299h3v15h-3zM1578,1299h3v15h-3zM1581,1299h3v15h-3zM1584,1299h3v15h-3zM1587,1299h3v15h-3zM1590,1299h3v15h-3zM1593,1299h3v15h-3zM1596,1299h3v18h-3zM1599,1302h3v12h-3zM1602,1293h3v21h-3zM1605,1302h3v12h-3zM1608,1302h3v9h-3zM1611,1302h3v12h-3zM1614,1299h3v15h-3zM1617,1296h3v21h-3zM1620,1302h3v15h-3zM1623,1299h3v24h-3zM1626,1299h3v18h-3zM1629,1299h3v18h-3zM1632,1302h3v15h-3zM1635,1302h3v15h-3zM1638,1302h3v15h-3zM1641,1302h3v18h-3zM1644,1305h3v15h-3zM1647,1302h3v15h-3zM1650,1302h3v15h-3zM1653,1302h3v15h-3zM1656,1305h3v12h-3zM1659,1299h3v18h-3zM1662,1302h3v15h-3zM1665,1302h3v15h-3zM1668,1305h3v18h-3zM1671,1302h3v15h-3zM1674,1302h3v18h-3zM1677,1305h3v15h-3zM1680,1302h3v15h-3zM1683,1305h3v15h-3zM1686,1302h3v18h-3zM1689,1305h3v12h-3zM1692,1302h3v15h-3zM1695,1305h3v12h-3zM1698,1302h3v18h-3zM1701,1299h3v24h-3zM1704,1305h3v15h-3zM1707,1305h3v12h-3zM1710,1305h3v15h-3zM1713,1302h3v18h-3zM1716,1305h3v12h-3zM1719,1302h3v18h-3zM1722,1305h3v12h-3zM1725,1305h3v12h-3zM1728,1305h3v12h-3zM1731,1305h3v12h-3zM1734,1302h3v18h-3zM1737,1302h3v12h-3zM1740,1302h3v15h-3zM1743,1305h3v15h-3zM1746,1305h3v12h-3zM1749,1305h3v12h-3zM1752,1305h3v18h-3zM1755,1302h3v15h-3zM1758,1305h3v15h-3zM1761,1305h3v12h-3zM1764,1305h3v18h-3zM1767,1305h3v15h-3zM1770,1305h3v15h-3zM1773,1305h3v18h-3zM1776,1305h3v15h-3zM1779,1305h3v15h-3zM1782,1305h3v12h-3zM1785,1305h3v15h-3zM1788,1305h3v15h-3zM1791,1308h3v12h-3zM1794,1305h3v15h-3zM1797,1305h3v15h-3zM1800,1305h3v21h-3zM1803,1305h3v18h-3zM1806,1308h3v15h-3zM1809,1305h3v15h-3zM1812,1302h3v21h-3zM1815,1308h3v15h-3zM1818,1305h3v12h-3zM1821,1305h3v15h-3zM1824,1308h3v15h-3zM1827,1308h3v12h-3zM1830,1308h3v15h-3zM1833,1308h3v12h-3zM1836,1305h3v18h-3zM1839,1308h3v12h-3zM1842,1305h3v15h-3zM1845,1308h3v15h-3zM1848,1308h3v12h-3zM1851,1308h3v12h-3zM1854,1308h3v15h-3zM1857,1305h3v18h-3zM1860,1308h3v15h-3zM1863,1308h3v15h-3zM1866,1305h3v18h-3zM1869,1305h3v15h-3zM1872,1305h3v18h-3zM1875,1311h3v12h-3zM1878,1311h3v12h-3zM1881,1308h3v12h-3zM1884,1305h3v15h-3zM1887,1308h3v15h-3zM1890,1302h3v18h-3zM1893,1305h3v15h-3zM1896,1308h3v15h-3zM1899,1305h3v18h-3zM1902,1305h3v18h-3zM1905,1308h3v18h-3zM1908,1308h3v15h-3zM1911,1311h3v12h-3zM1914,1308h3v15h-3zM1917,1308h3v15h-3zM1920,1308h3v15h-3zM1923,1308h3v18h-3zM1926,1311h3v21h-3zM1929,1311h3v12h-3zM1932,1311h3v12h-3zM1935,1308h3v12h-3zM1938,1311h3v12h-3zM1941,1308h3v15h-3zM1944,1305h3v18h-3zM1947,1311h3v12h-3zM1950,1311h3v12h-3zM1953,1311h3v12h-3zM1956,1311h3v12h-3zM1959,1308h3v18h-3zM1962,1314h3v9h-3zM1965,1314h3v9h-3z"/>
<path fill="#92D050" d="M162,1392h3v6h-3zM165,1389h3v12h-3zM168,1386h3v15h-3zM171,1389h3v9h-3zM174,1389h3v9h-3zM177,1389h3v12h-3zM180,1392h3v6h-3zM183,1392h3v9h-3zM186,1389h3v9h-3zM189,1386h3v12h-3zM192,1389h3v9h-3zM195,1386h3v12h-3zM198,1389h3v12h-3zM201,1389h3v9h-3zM204,1389h3v9h-3zM207,1389h3v9h-3zM210,1389h3v9h-3zM213,1389h3v9h-3zM216,1389h3v9h-3zM219,1389h3v9h-3zM222,1389h3v9h-3zM225,1389h3v9h-3zM228,1389h3v9h-3zM231,1389h3v9h-3zM234,1389h3v9h-3zM237,1389h3v9h-3zM240,1389h3v9h-3zM243,1386h3v12h-3zM246,1389h3v9h-3zM249,1386h3v9h-3zM252,1386h3v9h-3zM255,1386h3v9h-3zM258,1386h3v9h-3zM261,1383h3v12h-3zM264,1386h3v9h-3zM267,1386h3v9h-3zM270,1383h3v12h-3zM273,1386h3v6h-3zM276,1383h3v9h-3zM279,1383h3v9h-3zM282,1383h3v12h-3zM285,1383h3v9h-3zM288,1383h3v9h-3zM291,1383h3v9h-3zM294,1380h3v12h-3zM297,1380h3v12h-3zM300,1380h3v9h-3zM303,1380h3v9h-3zM306,1380h3v12h-3zM309,1380h3v12h-3zM312,1380h3v9h-3zM315,1377h3v9h-3zM318,1377h3v15h-3zM321,1377h3v9h-3zM324,1377h3v9h-3zM327,1377h3v9h-3zM330,1374h3v9h-3zM333,1374h3v9h-3zM336,1374h3v9h-3zM339,1377h3v6h-3zM342,1374h3v12h-3zM345,1374h3v9h-3zM348,1374h3v9h-3zM351,1371h3v12h-3zM354,1371h3v12h-3zM357,1371h3v12h-3zM360,1371h3v9h-3zM363,1371h3v9h-3zM366,1371h3v9h-3zM369,1371h3v9h-3zM372,1368h3v15h-3zM375,1368h3v9h-3zM378,1368h3v9h-3zM381,1365h3v12h-3zM384,1365h3v9h-3zM387,1365h3v9h-3zM390,1365h3v9h-3zM393,1362h3v9h-3zM396,1362h3v9h-3zM399,1362h3v9h-3zM402,1359h3v12h-3zM405,1359h3v9h-3zM408,1359h3v9h-3zM411,1359h3v9h-3zM414,1356h3v9h-3zM417,1356h3v9h-3zM420,1356h3v9h-3zM423,1353h3v12h-3zM426,1353h3v12h-3zM429,1353h3v9h-3zM432,1353h3v12h-3zM435,1353h3v9h-3zM438,1353h3v9h-3zM441,1353h3v9h-3zM444,1353h3v9h-3zM447,1350h3v12h-3zM450,1350h3v12h-3zM453,1350h3v12h-3zM456,1350h3v12h-3zM459,1350h3v12h-3zM462,1350h3v12h-3zM465,1353h3v6h-3zM468,1350h3v9h-3zM471,1347h3v12h-3zM474,1350h3v9h-3zM477,1350h3v9h-3zM480,1350h3v9h-3zM483,1350h3v9h-3zM486,1350h3v9h-3zM489,1350h3v9h-3zM492,1350h3v12h-3zM495,1350h3v9h-3zM498,1347h3v12h-3zM501,1350h3v9h-3zM504,1350h3v9h-3zM507,1350h3v12h-3zM510,1350h3v9h-3zM513,1350h3v9h-3zM516,1350h3v9h-3zM519,1350h3v12h-3zM522,1350h3v12h-3zM525,1347h3v12h-3zM528,1350h3v9h-3zM531,1353h3v9h-3zM534,1350h3v9h-3zM537,1350h3v12h-3zM540,1353h3v9h-3zM543,1353h3v9h-3zM546,1353h3v9h-3zM549,1353h3v9h-3zM552,1353h3v9h-3zM555,1353h3v9h-3zM558,1353h3v9h-3zM561,1353h3v9h-3zM564,1353h3v9h-3zM567,1350h3v12h-3zM570,1353h3v9h-3zM573,1353h3v12h-3zM576,1353h3v12h-3zM579,1353h3v12h-3zM582,1353h3v12h-3zM585,1353h3v12h-3zM588,1356h3v12h-3zM591,1353h3v12h-3zM594,1356h3v9h-3zM597,1356h3v9h-3zM600,1356h3v9h-3zM603,1356h3v9h-3zM606,1356h3v9h-3zM609,1356h3v9h-3zM612,1356h3v9h-3zM615,1356h3v9h-3zM618,1353h3v12h-3zM621,1356h3v9h-3zM624,1356h3v9h-3zM627,1356h3v9h-3zM630,1356h3v9h-3zM633,1356h3v9h-3zM636,1356h3v9h-3zM639,1356h3v9h-3zM642,1356h3v9h-3zM645,1356h3v9h-3zM648,1356h3v12h-3zM651,1356h3v9h-3zM654,1353h3v12h-3zM657,1356h3v12h-3zM660,1356h3v9h-3zM663,1356h3v9h-3zM666,1356h3v9h-3zM669,1356h3v9h-3zM672,1356h3v9h-3zM675,1356h3v9h-3zM678,1356h3v9h-3zM681,1356h3v12h-3zM684,1356h3v9h-3zM687,1356h3v9h-3zM690,1353h3v18h-3zM693,1356h3v9h-3zM696,1356h3v9h-3zM699,1359h3v9h-3zM702,1359h3v9h-3zM705,1359h3v9h-3zM708,1359h3v9h-3zM711,1359h3v9h-3zM714,1359h3v9h-3zM717,1356h3v12h-3zM720,1359h3v9h-3zM723,1359h3v12h-3zM726,1359h3v9h-3zM729,1362h3v9h-3zM732,1362h3v9h-3zM735,1356h3v12h-3zM738,1359h3v12h-3zM741,1362h3v9h-3zM744,1356h3v15h-3zM747,1362h3v9h-3zM750,1362h3v9h-3zM753,1362h3v9h-3zM756,1362h3v9h-3zM759,1362h3v9h-3zM762,1362h3v9h-3zM765,1362h3v9h-3zM768,1359h3v12h-3zM771,1362h3v9h-3zM774,1365h3v6h-3zM777,1362h3v12h-3zM780,1365h3v6h-3zM783,1362h3v12h-3zM786,1362h3v12h-3zM789,1365h3v9h-3zM792,1365h3v9h-3zM795,1365h3v9h-3zM798,1365h3v9h-3zM801,1365h3v12h-3zM804,1365h3v9h-3zM807,1365h3v12h-3zM810,1365h3v9h-3zM813,1365h3v12h-3zM816,1368h3v9h-3zM819,1368h3v9h-3zM822,1365h3v12h-3zM825,1368h3v9h-3zM828,1368h3v9h-3zM831,1368h3v9h-3zM834,1368h3v9h-3zM837,1368h3v9h-3zM840,1368h3v9h-3zM843,1368h3v9h-3zM846,1371h3v9h-3zM849,1368h3v12h-3zM852,1371h3v9h-3zM855,1371h3v9h-3zM858,1368h3v9h-3zM861,1368h3v15h-3zM864,1371h3v9h-3zM867,1371h3v9h-3zM870,1371h3v9h-3zM873,1371h3v9h-3zM876,1371h3v9h-3zM879,1371h3v9h-3zM882,1371h3v9h-3zM885,1371h3v9h-3zM888,1371h3v9h-3zM891,1371h3v12h-3zM894,1371h3v9h-3zM897,1371h3v9h-3zM900,1371h3v9h-3zM903,1371h3v9h-3zM906,1371h3v9h-3zM909,1371h3v9h-3zM912,1371h3v9h-3zM915,1371h3v9h-3zM918,1371h3v9h-3zM921,1371h3v9h-3zM924,1371h3v9h-3zM927,1371h3v9h-3zM930,1371h3v9h-3zM933,1371h3v9h-3zM936,1371h3v12h-3zM939,1371h3v9h-3zM942,1371h3v9h-3zM945,1374h3v6h-3zM948,1374h3v9h-3zM951,1371h3v9h-3zM954,1374h3v6h-3zM957,1374h3v6h-3zM960,1371h3v12h-3zM963,1374h3v9h-3zM966,1371h3v12h-3zM969,1374h3v9h-3zM972,1374h3v9h-3zM975,1374h3v9h-3zM978,1374h3v9h-3zM981,1374h3v9h-3zM984,1374h3v9h-3zM987,1374h3v9h-3zM990,1374h3v9h-3zM993,1374h3v9h-3zM996,1374h3v9h-3zM999,1371h3v15h-3zM1002,1377h3v6h-3zM1005,1374h3v9h-3zM1008,1374h3v12h-3zM1011,1374h3v12h-3zM1014,1377h3v6h-3zM1017,1377h3v9h-3zM1020,1377h3v9h-3zM1023,1374h3v12h-3zM1026,1377h3v9h-3zM1029,1377h3v9h-3zM1032,1377h3v9h-3zM1035,1377h3v9h-3zM1038,1377h3v9h-3zM1041,1377h3v9h-3zM1044,1377h3v9h-3zM1047,1377h3v9h-3zM1050,1377h3v9h-3zM1053,1377h3v9h-3zM1056,1377h3v9h-3zM1059,1377h3v9h-3zM1062,1377h3v9h-3zM1065,1377h3v12h-3zM1068,1377h3v9h-3zM1071,1377h3v12h-3zM1074,1380h3v6h-3zM1077,1380h3v9h-3zM1080,1380h3v6h-3zM1083,1380h3v9h-3zM1086,1380h3v9h-3zM1089,1380h3v9h-3zM1092,1380h3v9h-3zM1095,1380h3v9h-3zM1098,1380h3v9h-3zM1101,1380h3v9h-3zM1104,1380h3v9h-3zM1107,1380h3v9h-3zM1110,1380h3v9h-3zM1113,1380h3v9h-3zM1116,1380h3v9h-3zM1119,1380h3v9h-3zM1122,1380h3v9h-3zM1125,1383h3v9h-3zM1128,1383h3v6h-3zM1131,1383h3v9h-3zM1134,1383h3v9h-3zM1137,1383h3v6h-3zM1140,1383h3v9h-3zM1143,1380h3v12h-3zM1146,1383h3v9h-3zM1149,1383h3v9h-3zM1152,1380h3v12h-3zM1155,1383h3v12h-3zM1158,1383h3v9h-3zM1161,1383h3v9h-3zM1164,1383h3v9h-3zM1167,1383h3v9h-3zM1170,1383h3v9h-3zM1173,1383h3v9h-3zM1176,1383h3v9h-3zM1179,1383h3v9h-3zM1182,1386h3v6h-3zM1185,1383h3v9h-3zM1188,1383h3v9h-3zM1191,1383h3v9h-3zM1194,1383h3v9h-3zM1197,1383h3v12h-3zM1200,1386h3v6h-3zM1203,1386h3v9h-3zM1206,1386h3v9h-3zM1209,1386h3v9h-3zM1212,1386h3v9h-3zM1215,1386h3v9h-3zM1218,1386h3v6h-3zM1221,1386h3v9h-3zM1224,1386h3v9h-3zM1227,1386h3v9h-3zM1230,1386h3v9h-3zM1233,1383h3v12h-3zM1236,1386h3v9h-3zM1239,1383h3v12h-3zM1242,1383h3v12h-3zM1245,1386h3v9h-3zM1248,1386h3v9h-3zM1251,1386h3v9h-3zM1254,1386h3v9h-3zM1257,1383h3v12h-3zM1260,1386h3v9h-3zM1263,1386h3v9h-3zM1266,1383h3v12h-3zM1269,1386h3v9h-3zM1272,1386h3v9h-3zM1275,1386h3v9h-3zM1278,1386h3v12h-3zM1281,1386h3v9h-3zM1284,1383h3v12h-3zM1287,1386h3v9h-3zM1290,1389h3v6h-3zM1293,1389h3v6h-3zM1296,1383h3v12h-3zM1299,1386h3v9h-3zM1302,1386h3v9h-3zM1305,1389h3v6h-3zM1308,1389h3v9h-3zM1311,1389h3v6h-3zM1314,1389h3v9h-3zM1317,1389h3v6h-3zM1320,1389h3v9h-3zM1323,1386h3v12h-3zM1326,1386h3v12h-3zM1329,1389h3v6h-3zM1332,1389h3v9h-3zM1335,1389h3v9h-3zM1338,1389h3v9h-3zM1341,1389h3v9h-3zM1344,1389h3v9h-3zM1347,1389h3v9h-3zM1350,1389h3v9h-3zM1353,1386h3v15h-3zM1356,1389h3v9h-3zM1359,1389h3v9h-3zM1362,1389h3v9h-3zM1365,1389h3v12h-3zM1368,1389h3v9h-3zM1371,1389h3v9h-3zM1374,1389h3v9h-3zM1377,1389h3v9h-3zM1380,1389h3v9h-3zM1383,1389h3v9h-3zM1386,1389h3v9h-3zM1389,1389h3v9h-3zM1392,1389h3v9h-3zM1395,1392h3v6h-3zM1398,1392h3v6h-3zM1401,1389h3v9h-3zM1404,1389h3v9h-3zM1407,1389h3v12h-3zM1410,1392h3v6h-3zM1413,1389h3v9h-3zM1416,1392h3v6h-3zM1419,1392h3v6h-3zM1422,1389h3v9h-3zM1425,1389h3v9h-3zM1428,1392h3v6h-3zM1431,1392h3v6h-3zM1434,1392h3v6h-3zM1437,1392h3v6h-3zM1440,1392h3v6h-3zM1443,1392h3v6h-3zM1446,1392h3v6h-3zM1449,1392h3v6h-3zM1452,1392h3v6h-3zM1455,1392h3v9h-3zM1458,1392h3v9h-3zM1461,1392h3v9h-3zM1464,1392h3v9h-3zM1467,1392h3v6h-3zM1470,1389h3v12h-3zM1473,1392h3v9h-3zM1476,1392h3v9h-3zM1479,1392h3v9h-3zM1482,1392h3v9h-3zM1485,1392h3v9h-3zM1488,1395h3v6h-3zM1491,1392h3v9h-3zM1494,1392h3v9h-3zM1497,1392h3v9h-3zM1500,1392h3v9h-3zM1503,1392h3v12h-3zM1506,1392h3v9h-3zM1509,1392h3v9h-3zM1512,1392h3v9h-3zM1515,1392h3v9h-3zM1518,1395h3v9h-3zM1521,1392h3v9h-3zM1524,1389h3v12h-3zM1527,1395h3v6h-3zM1530,1395h3v6h-3zM1533,1392h3v9h-3zM1536,1395h3v9h-3zM1539,1395h3v6h-3zM1542,1392h3v9h-3zM1545,1395h3v9h-3zM1548,1395h3v6h-3zM1551,1395h3v9h-3zM1554,1392h3v12h-3zM1557,1395h3v9h-3zM1560,1395h3v6h-3zM1563,1395h3v9h-3zM1566,1395h3v9h-3zM1569,1392h3v12h-3zM1572,1395h3v9h-3zM1575,1395h3v9h-3zM1578,1395h3v9h-3zM1581,1395h3v9h-3zM1584,1395h3v9h-3zM1587,1395h3v9h-3zM1590,1395h3v12h-3zM1593,1395h3v9h-3zM1596,1395h3v9h-3zM1599,1395h3v12h-3zM1602,1392h3v12h-3zM1605,1395h3v9h-3zM1608,1395h3v9h-3zM1611,1395h3v9h-3zM1614,1395h3v9h-3zM1617,1395h3v9h-3zM1620,1395h3v9h-3zM1623,1392h3v12h-3zM1626,1395h3v9h-3zM1629,1395h3v9h-3zM1632,1395h3v9h-3zM1635,1395h3v9h-3zM1638,1395h3v9h-3zM1641,1395h3v9h-3zM1644,1395h3v9h-3zM1647,1395h3v9h-3zM1650,1395h3v9h-3zM1653,1395h3v9h-3zM1656,1395h3v9h-3zM1659,1398h3v6h-3zM1662,1398h3v6h-3zM1665,1395h3v9h-3zM1668,1398h3v6h-3zM1671,1398h3v6h-3zM1674,1395h3v9h-3zM1677,1395h3v12h-3zM1680,1398h3v6h-3zM1683,1395h3v9h-3zM1686,1398h3v6h-3zM1689,1398h3v6h-3zM1692,1398h3v6h-3zM1695,1395h3v9h-3zM1698,1398h3v6h-3zM1701,1398h3v6h-3zM1704,1398h3v6h-3zM1707,1398h3v6h-3zM1710,1395h3v9h-3zM1713,1398h3v6h-3zM1716,1398h3v6h-3zM1719,1398h3v6h-3zM1722,1398h3v9h-3zM1725,1398h3v6h-3zM1728,1398h3v6h-3zM1731,1398h3v6h-3zM1734,1398h3v6h-3zM1737,1398h3v6h-3zM1740,1398h3v6h-3zM1743,1398h3v6h-3zM1746,1398h3v6h-3zM1749,1395h3v12h-3zM1752,1398h3v6h-3zM1755,1398h3v6h-3zM1758,1395h3v9h-3zM1761,1398h3v6h-3zM1764,1398h3v6h-3zM1767,1398h3v6h-3zM1770,1398h3v6h-3zM1773,1398h3v6h-3zM1776,1398h3v6h-3zM1779,1398h3v9h-3zM1782,1398h3v9h-3zM1785,1398h3v9h-3zM1788,1398h3v9h-3zM1791,1398h3v9h-3zM1794,1398h3v6h-3zM1797,1398h3v9h-3zM1800,1398h3v6h-3zM1803,1398h3v6h-3zM1806,1398h3v6h-3zM1809,1398h3v9h-3zM1812,1398h3v6h-3zM1815,1398h3v9h-3zM1818,1398h3v9h-3zM1821,1398h3v12h-3zM1824,1398h3v9h-3zM1827,1398h3v9h-3zM1830,1398h3v9h-3zM1833,1398h3v9h-3zM1836,1398h3v9h-3zM1839,1398h3v9h-3zM1842,1398h3v9h-3zM1845,1398h3v9h-3zM1848,1398h3v12h-3zM1851,1398h3v9h-3zM1854,1398h3v9h-3zM1857,1398h3v9h-3zM1860,1395h3v12h-3zM1863,1398h3v9h-3zM1866,1398h3v9h-3zM1869,1398h3v9h-3zM1872,1398h3v9h-3zM1875,1398h3v9h-3zM1878,1398h3v9h-3zM1881,1398h3v9h-3zM1884,1398h3v9h-3zM1887,1398h3v9h-3zM1890,1401h3v6h-3zM1893,1401h3v6h-3zM1896,1398h3v9h-3zM1899,1398h3v9h-3zM1902,1401h3v6h-3zM1905,1395h3v12h-3zM1908,1398h3v9h-3zM1911,1398h3v9h-3zM1914,1401h3v9h-3zM1917,1398h3v9h-3zM1920,1401h3v9h-3zM1923,1401h3v6h-3zM1926,1401h3v6h-3zM1929,1398h3v9h-3zM1932,1401h3v6h-3zM1935,1401h3v6h-3zM1938,1401h3v6h-3zM1941,1398h3v9h-3zM1944,1401h3v6h-3zM1947,1401h3v6h-3zM1950,1401h3v6h-3zM1953,1401h3v6h-3zM1956,1401h3v6h-3zM1959,1401h3v9h-3zM1962,1401h3v6h-3zM1965,1401h3v6h-3z"/>
<path fill="#0070C0" d="M162,1350h3v6h-3zM165,1347h3v12h-3zM168,1347h3v12h-3zM171,1350h3v9h-3zM174,1350h3v9h-3zM177,1347h3v18h-3zM180,1347h3v12h-3zM183,1347h3v12h-3zM186,1344h3v12h-3zM189,1347h3v9h-3zM192,1347h3v12h-3zM195,1347h3v12h-3zM198,1344h3v12h-3zM201,1344h3v12h-3zM204,1344h3v12h-3zM207,1341h3v15h-3zM210,1347h3v9h-3zM213,1344h3v12h-3zM216,1344h3v12h-3zM219,1341h3v12h-3zM222,1344h3v9h-3zM225,1344h3v12h-3zM228,1344h3v12h-3zM231,1344h3v12h-3zM234,1344h3v9h-3zM237,1344h3v9h-3zM240,1341h3v12h-3zM243,1341h3v15h-3zM246,1341h3v12h-3zM249,1341h3v12h-3zM252,1341h3v12h-3zM255,1341h3v12h-3zM258,1341h3v12h-3zM261,1341h3v12h-3zM264,1341h3v9h-3zM267,1338h3v12h-3zM270,1338h3v15h-3zM273,1338h3v12h-3zM276,1338h3v12h-3zM279,1341h3v9h-3zM282,1335h3v12h-3zM285,1338h3v15h-3zM288,1341h3v9h-3zM291,1338h3v9h-3zM294,1338h3v12h-3zM297,1338h3v9h-3zM300,1335h3v12h-3zM303,1338h3v9h-3zM306,1335h3v12h-3zM309,1332h3v12h-3zM312,1332h3v15h-3zM315,1332h3v12h-3zM318,1329h3v15h-3zM321,1332h3v12h-3zM324,1332h3v9h-3zM327,1329h3v12h-3zM330,1329h3v12h-3zM333,1329h3v9h-3zM336,1326h3v12h-3zM339,1329h3v9h-3zM342,1326h3v12h-3zM345,1323h3v12h-3zM348,1323h3v12h-3zM351,1320h3v21h-3zM354,1317h3v15h-3zM357,1320h3v12h-3zM360,1320h3v9h-3zM363,1317h3v12h-3zM366,1314h3v12h-3zM369,1311h3v15h-3zM372,1311h3v12h-3zM375,1305h3v15h-3zM378,1302h3v18h-3zM381,1305h3v12h-3zM384,1302h3v12h-3zM387,1299h3v12h-3zM390,1296h3v12h-3zM393,1287h3v15h-3zM396,1281h3v24h-3zM399,1281h3v15h-3zM402,1281h3v18h-3zM405,1275h3v18h-3zM408,1275h3v15h-3zM411,1275h3v12h-3zM414,1272h3v15h-3zM417,1269h3v21h-3zM420,1272h3v12h-3zM423,1272h3v12h-3zM426,1272h3v12h-3zM429,1269h3v21h-3zM432,1269h3v15h-3zM435,1269h3v18h-3zM438,1269h3v18h-3zM441,1269h3v15h-3zM444,1269h3v15h-3zM447,1269h3v15h-3zM450,1272h3v12h-3zM453,1272h3v15h-3zM456,1269h3v18h-3zM459,1272h3v18h-3zM462,1275h3v15h-3zM465,1272h3v15h-3zM468,1275h3v15h-3zM471,1272h3v21h-3zM474,1275h3v18h-3zM477,1275h3v15h-3zM480,1275h3v15h-3zM483,1275h3v15h-3zM486,1272h3v18h-3zM489,1275h3v15h-3zM492,1275h3v15h-3zM495,1272h3v15h-3zM498,1275h3v21h-3zM501,1272h3v21h-3zM504,1272h3v15h-3zM507,1275h3v12h-3zM510,1275h3v18h-3zM513,1278h3v12h-3zM516,1278h3v12h-3zM519,1278h3v21h-3zM522,1278h3v15h-3zM525,1278h3v21h-3zM528,1281h3v15h-3zM531,1281h3v18h-3zM534,1281h3v18h-3zM537,1284h3v15h-3zM540,1281h3v21h-3zM543,1281h3v21h-3zM546,1287h3v12h-3zM549,1287h3v15h-3zM552,1287h3v15h-3zM555,1287h3v12h-3zM558,1287h3v15h-3zM561,1284h3v21h-3zM564,1290h3v12h-3zM567,1290h3v12h-3zM570,1287h3v15h-3zM573,1290h3v15h-3zM576,1293h3v12h-3zM579,1293h3v12h-3zM582,1293h3v15h-3zM585,1293h3v12h-3zM588,1293h3v15h-3zM591,1293h3v21h-3zM594,1293h3v18h-3zM597,1290h3v18h-3zM600,1296h3v12h-3zM603,1296h3v12h-3zM606,1293h3v18h-3zM609,1296h3v15h-3zM612,1281h3v30h-3zM615,1266h3v45h-3zM618,1266h3v42h-3zM621,1278h3v33h-3zM624,1296h3v18h-3zM627,1299h3v12h-3zM630,1296h3v12h-3zM633,1296h3v15h-3zM636,1296h3v15h-3zM639,1296h3v18h-3zM642,1296h3v15h-3zM645,1296h3v15h-3zM648,1299h3v18h-3zM651,1299h3v12h-3zM654,1296h3v15h-3zM657,1296h3v18h-3zM660,1293h3v18h-3zM663,1296h3v18h-3zM666,1299h3v15h-3zM669,1296h3v18h-3zM672,1299h3v15h-3zM675,1299h3v15h-3zM678,1296h3v18h-3zM681,1299h3v12h-3zM684,1299h3v12h-3zM687,1299h3v12h-3zM690,1302h3v12h-3zM693,1299h3v15h-3zM696,1299h3v15h-3zM699,1299h3v15h-3zM702,1296h3v21h-3zM705,1299h3v18h-3zM708,1302h3v12h-3zM711,1302h3v12h-3zM714,1302h3v12h-3zM717,1302h3v12h-3zM720,1302h3v15h-3zM723,1299h3v15h-3zM726,1302h3v12h-3zM729,1302h3v12h-3zM732,1296h3v21h-3zM735,1290h3v24h-3zM738,1293h3v24h-3zM741,1302h3v15h-3zM744,1305h3v12h-3zM747,1302h3v18h-3zM750,1305h3v12h-3zM753,1305h3v18h-3zM756,1302h3v15h-3zM759,1305h3v15h-3zM762,1305h3v15h-3zM765,1308h3v12h-3zM768,1308h3v12h-3zM771,1305h3v15h-3zM774,1308h3v12h-3zM777,1308h3v12h-3zM780,1305h3v15h-3zM783,1311h3v12h-3zM786,1311h3v12h-3zM789,1311h3v15h-3zM792,1311h3v12h-3zM795,1311h3v12h-3zM798,1311h3v15h-3zM801,1311h3v15h-3zM804,1311h3v12h-3zM807,1305h3v24h-3zM810,1314h3v9h-3zM813,1314h3v9h-3zM816,1314h3v12h-3zM819,1314h3v9h-3zM822,1311h3v12h-3zM825,1314h3v9h-3zM828,1308h3v15h-3zM831,1314h3v12h-3zM834,1314h3v12h-3zM837,1314h3v12h-3zM840,1314h3v12h-3zM843,1314h3v15h-3zM846,1305h3v21h-3zM849,1305h3v18h-3zM852,1308h3v21h-3zM855,1314h3v12h-3zM858,1314h3v12h-3zM861,1314h3v15h-3zM864,1317h3v12h-3zM867,1317h3v12h-3zM870,1317h3v12h-3zM873,1320h3v15h-3zM876,1320h3v9h-3zM879,1320h3v12h-3zM882,1320h3v12h-3zM885,1320h3v15h-3zM888,1320h3v12h-3zM891,1320h3v12h-3zM894,1323h3v9h-3zM897,1320h3v12h-3zM900,1323h3v9h-3zM903,1323h3v12h-3zM906,1320h3v15h-3zM909,1320h3v15h-3zM912,1323h3v12h-3zM915,1323h3v12h-3zM918,1323h3v12h-3zM921,1323h3v12h-3zM924,1323h3v9h-3zM927,1320h3v12h-3zM930,1317h3v15h-3zM933,1320h3v12h-3zM936,1317h3v18h-3zM939,1320h3v15h-3zM942,1320h3v15h-3zM945,1320h3v12h-3zM948,1320h3v12h-3zM951,1320h3v12h-3zM954,1320h3v12h-3zM957,1320h3v9h-3zM960,1320h3v9h-3zM963,1320h3v9h-3zM966,1320h3v12h-3zM969,1320h3v15h-3zM972,1320h3v15h-3zM975,1320h3v15h-3zM978,1323h3v12h-3zM981,1323h3v12h-3zM984,1323h3v12h-3zM987,1323h3v12h-3zM990,1320h3v15h-3zM993,1326h3v15h-3zM996,1326h3v12h-3zM999,1323h3v15h-3zM1002,1326h3v15h-3zM1005,1329h3v9h-3zM1008,1329h3v9h-3zM1011,1329h3v12h-3zM1014,1326h3v15h-3zM1017,1329h3v12h-3zM1020,1329h3v12h-3zM1023,1326h3v15h-3zM1026,1329h3v15h-3zM1029,1326h3v15h-3zM1032,1332h3v12h-3zM1035,1332h3v9h-3zM1038,1329h3v21h-3zM1041,1332h3v12h-3zM1044,1329h3v15h-3zM1047,1332h3v12h-3zM1050,1332h3v12h-3zM1053,1332h3v15h-3zM1056,1335h3v9h-3zM1059,1335h3v9h-3zM1062,1335h3v9h-3zM1065,1335h3v9h-3zM1068,1332h3v18h-3zM1071,1335h3v12h-3zM1074,1335h3v9h-3zM1077,1335h3v12h-3zM1080,1335h3v12h-3zM1083,1335h3v12h-3zM1086,1332h3v18h-3zM1089,1335h3v12h-3zM1092,1332h3v15h-3zM1095,1335h3v12h-3zM1098,1335h3v9h-3zM1101,1332h3v12h-3zM1104,1335h3v12h-3zM1107,1338h3v9h-3zM1110,1335h3v12h-3zM1113,1338h3v9h-3zM1116,1335h3v12h-3zM1119,1338h3v12h-3zM1122,1338h3v9h-3zM1125,1338h3v12h-3zM1128,1338h3v9h-3zM1131,1338h3v12h-3zM1134,1335h3v15h-3zM1137,1338h3v9h-3zM1140,1338h3v9h-3zM1143,1335h3v12h-3zM1146,1338h3v12h-3zM1149,1338h3v12h-3zM1152,1338h3v12h-3zM1155,1338h3v12h-3zM1158,1338h3v12h-3zM1161,1338h3v9h-3zM1164,1335h3v15h-3zM1167,1335h3v15h-3zM1170,1335h3v18h-3zM1173,1341h3v12h-3zM1176,1335h3v15h-3zM1179,1341h3v9h-3zM1182,1341h3v9h-3zM1185,1341h3v12h-3zM1188,1338h3v15h-3zM1191,1341h3v9h-3zM1194,1338h3v15h-3zM1197,1338h3v12h-3zM1200,1338h3v15h-3zM1203,1341h3v12h-3zM1206,1341h3v12h-3zM1209,1341h3v12h-3zM1212,1341h3v12h-3zM1215,1341h3v12h-3zM1218,1344h3v12h-3zM1221,1344h3v9h-3zM1224,1341h3v12h-3zM1227,1344h3v12h-3zM1230,1341h3v12h-3zM1233,1344h3v9h-3zM1236,1341h3v15h-3zM1239,1341h3v12h-3zM1242,1344h3v9h-3zM1245,1344h3v9h-3zM1248,1341h3v12h-3zM1251,1344h3v12h-3zM1254,1341h3v12h-3zM1257,1344h3v12h-3zM1260,1344h3v12h-3zM1263,1344h3v9h-3zM1266,1341h3v15h-3zM1269,1344h3v12h-3zM1272,1344h3v12h-3zM1275,1347h3v9h-3zM1278,1344h3v12h-3zM1281,1344h3v18h-3zM1284,1347h3v9h-3zM1287,1347h3v12h-3zM1290,1347h3v12h-3zM1293,1347h3v9h-3zM1296,1347h3v12h-3zM1299,1347h3v12h-3zM1302,1347h3v12h-3zM1305,1347h3v12h-3zM1308,1347h3v15h-3zM1311,1347h3v12h-3zM1314,1347h3v12h-3zM1317,1347h3v18h-3zM1320,1347h3v12h-3zM1323,1347h3v12h-3zM1326,1347h3v12h-3zM1329,1347h3v12h-3zM1332,1347h3v12h-3zM1335,1347h3v15h-3zM1338,1347h3v12h-3zM1341,1350h3v9h-3zM1344,1350h3v9h-3zM1347,1350h3v9h-3zM1350,1347h3v12h-3zM1353,1347h3v12h-3zM1356,1347h3v12h-3zM1359,1350h3v12h-3zM1362,1347h3v12h-3zM1365,1347h3v12h-3zM1368,1344h3v18h-3zM1371,1347h3v15h-3zM1374,1344h3v15h-3zM1377,1347h3v15h-3zM1380,1347h3v15h-3zM1383,1347h3v12h-3zM1386,1350h3v9h-3zM1389,1347h3v18h-3zM1392,1350h3v9h-3zM1395,1347h3v12h-3zM1398,1344h3v15h-3zM1401,1344h3v15h-3zM1404,1350h3v12h-3zM1407,1350h3v18h-3zM1410,1350h3v15h-3zM1413,1350h3v12h-3zM1416,1350h3v12h-3zM1419,1350h3v12h-3zM1422,1350h3v12h-3zM1425,1350h3v12h-3zM1428,1353h3v12h-3zM1431,1353h3v9h-3zM1434,1353h3v15h-3zM1437,1353h3v12h-3zM1440,1353h3v9h-3zM1443,1350h3v15h-3zM1446,1353h3v12h-3zM1449,1353h3v12h-3zM1452,1353h3v12h-3zM1455,1353h3v12h-3zM1458,1353h3v12h-3zM1461,1353h3v12h-3zM1464,1353h3v12h-3zM1467,1353h3v12h-3zM1470,1356h3v12h-3zM1473,1356h3v9h-3zM1476,1353h3v12h-3zM1479,1350h3v15h-3zM1482,1353h3v12h-3zM1485,1353h3v15h-3zM1488,1353h3v12h-3zM1491,1353h3v18h-3zM1494,1356h3v9h-3zM1497,1350h3v18h-3zM1500,1353h3v12h-3zM1503,1353h3v15h-3zM1506,1356h3v9h-3zM1509,1353h3v12h-3zM1512,1356h3v9h-3zM1515,1353h3v12h-3zM1518,1347h3v18h-3zM1521,1353h3v12h-3zM1524,1356h3v9h-3zM1527,1356h3v9h-3zM1530,1356h3v12h-3zM1533,1356h3v12h-3zM1536,1356h3v9h-3zM1539,1356h3v9h-3zM1542,1356h3v12h-3zM1545,1356h3v12h-3zM1548,1356h3v12h-3zM1551,1356h3v12h-3zM1554,1356h3v9h-3zM1557,1353h3v15h-3zM1560,1353h3v15h-3zM1563,1356h3v15h-3zM1566,1356h3v12h-3zM1569,1356h3v12h-3zM1572,1356h3v12h-3zM1575,1359h3v9h-3zM1578,1350h3v18h-3zM1581,1356h3v12h-3zM1584,1353h3v18h-3zM1587,1359h3v9h-3zM1590,1350h3v18h-3zM1593,1356h3v12h-3zM1596,1356h3v15h-3zM1599,1359h3v9h-3zM1602,1356h3v15h-3zM1605,1359h3v9h-3zM1608,1359h3v9h-3zM1611,1359h3v9h-3zM1614,1356h3v15h-3zM1617,1359h3v12h-3zM1620,1353h3v18h-3zM1623,1359h3v12h-3zM1626,1356h3v15h-3zM1629,1356h3v12h-3zM1632,1359h3v9h-3zM1635,1359h3v15h-3zM1638,1359h3v9h-3zM1641,1359h3v15h-3zM1644,1359h3v15h-3zM1647,1359h3v12h-3zM1650,1359h3v15h-3zM1653,1359h3v9h-3zM1656,1359h3v12h-3zM1659,1359h3v12h-3zM1662,1359h3v12h-3zM1665,1359h3v18h-3zM1668,1359h3v12h-3zM1671,1359h3v15h-3zM1674,1359h3v12h-3zM1677,1359h3v12h-3zM1680,1362h3v9h-3zM1683,1359h3v12h-3zM1686,1359h3v12h-3zM1689,1359h3v12h-3zM1692,1359h3v12h-3zM1695,1359h3v9h-3zM1698,1359h3v12h-3zM1701,1359h3v15h-3zM1704,1353h3v18h-3zM1707,1356h3v15h-3zM1710,1362h3v12h-3zM1713,1359h3v12h-3zM1716,1359h3v12h-3zM1719,1356h3v18h-3zM1722,1356h3v15h-3zM1725,1362h3v9h-3zM1728,1356h3v15h-3zM1731,1359h3v12h-3zM1734,1362h3v9h-3zM1737,1359h3v12h-3zM1740,1359h3v15h-3zM1743,1362h3v15h-3zM1746,1362h3v9h-3zM1749,1356h3v15h-3zM1752,1362h3v9h-3zM1755,1359h3v15h-3zM1758,1362h3v9h-3zM1761,1362h3v9h-3zM1764,1362h3v9h-3zM1767,1362h3v9h-3zM1770,1362h3v12h-3zM1773,1362h3v12h-3zM1776,1362h3v12h-3zM1779,1359h3v15h-3zM1782,1362h3v9h-3zM1785,1362h3v12h-3zM1788,1362h3v12h-3zM1791,1362h3v12h-3zM1794,1359h3v15h-3zM1797,1362h3v9h-3zM1800,1362h3v12h-3zM1803,1362h3v12h-3zM1806,1362h3v12h-3zM1809,1362h3v15h-3zM1812,1362h3v15h-3zM1815,1359h3v15h-3zM1818,1362h3v9h-3zM1821,1362h3v12h-3zM1824,1359h3v15h-3zM1827,1365h3v9h-3zM1830,1365h3v9h-3zM1833,1365h3v9h-3zM1836,1365h3v9h-3zM1839,1365h3v12h-3zM1842,1362h3v15h-3zM1845,1365h3v9h-3zM1848,1365h3v9h-3zM1851,1365h3v9h-3zM1854,1359h3v15h-3zM1857,1365h3v9h-3zM1860,1365h3v9h-3zM1863,1365h3v12h-3zM1866,1365h3v12h-3zM1869,1365h3v12h-3zM1872,1365h3v9h-3zM1875,1362h3v15h-3zM1878,1365h3v12h-3zM1881,1365h3v9h-3zM1884,1365h3v9h-3zM1887,1359h3v21h-3zM1890,1365h3v9h-3zM1893,1362h3v15h-3zM1896,1365h3v12h-3zM1899,1365h3v9h-3zM1902,1359h3v15h-3zM1905,1365h3v12h-3zM1908,1365h3v12h-3zM1911,1365h3v9h-3zM1914,1365h3v12h-3zM1917,1365h3v9h-3zM1920,1365h3v9h-3zM1923,1365h3v9h-3zM1926,1365h3v12h-3zM1929,1365h3v12h-3zM1932,1365h3v12h-3zM1935,1365h3v9h-3zM1938,1365h3v9h-3zM1941,1362h3v15h-3zM1944,1362h3v15h-3zM1947,1365h3v12h-3zM1950,1365h3v15h-3zM1953,1368h3v9h-3zM1956,1365h3v12h-3zM1959,1365h3v12h-3zM1962,1338h3v36h-3zM1965,1338h3v36h-3z"/>
<line x1="1518.5" x2="1600" y1="153.3" y2="153.3" stroke="#F4141C" stroke-width="4.6" stroke-linecap="round"/>
<line x1="1518.5" x2="1600" y1="235.5" y2="235.5" stroke="#6F389F" stroke-width="4.6" stroke-linecap="round"/>
<line x1="1518.5" x2="1600" y1="315.5" y2="315.5" stroke="#A3A3A3" stroke-width="4.6" stroke-linecap="round"/>
<line x1="1518.5" x2="1600" y1="396.3" y2="396.3" stroke="#FAFA18" stroke-width="4.6" stroke-linecap="round"/>
<line x1="1518.5" x2="1600" y1="477.0" y2="477.0" stroke="#0CA0DE" stroke-width="4.6" stroke-linecap="round"/>
<line x1="1518.5" x2="1600" y1="557.5" y2="557.5" stroke="#8ECC50" stroke-width="4.6" stroke-linecap="round"/>
<line x1="1518.5" x2="1600" y1="637.3" y2="637.3" stroke="#16619F" stroke-width="4.6" stroke-linecap="round"/>
</g>
<g filter="url(#softt)">
<text class="tick" transform="translate(164.9,1512) scale(1.05,1)">10</text>
<text class="tick" transform="translate(422.4,1512) scale(1.05,1)">20</text>
<text class="tick" transform="translate(680.0,1512) scale(1.05,1)">30</text>
<text class="tick" transform="translate(936.3,1512) scale(1.05,1)">40</text>
<text class="tick" transform="translate(1194.0,1512) scale(1.05,1)">50</text>
<text class="tick" transform="translate(1453.0,1512) scale(1.05,1)">60</text>
<text class="tick" transform="translate(1710.5,1512) scale(1.05,1)">70</text>
<text class="tick" transform="translate(1966.5,1512) scale(1.05,1)">80</text>
<text class="leg" transform="translate(1607,173.8) scale(1.04,1)">PVA</text>
<text class="leg" transform="translate(1607,256.0) scale(1.04,1)">PVN</text>
<text class="leg" transform="translate(1607,336.0) scale(1.04,1)">PVNLI 5</text>
<text class="leg" transform="translate(1607,416.8) scale(1.04,1)">PVNLI 10</text>
<text class="leg" transform="translate(1607,497.5) scale(1.04,1)">PVNLI 15</text>
<text class="leg" transform="translate(1607,578.0) scale(1.04,1)">PVNLI 20</text>
<text class="leg" transform="translate(1607,657.8) scale(1.04,1)">PVNLI 25</text>
<text class="title" transform="translate(968.5,1633) scale(1.012,1)">2θ (Degree)</text>
<text class="title" transform="translate(61,735.5) rotate(-90)">Intensity (a.u.)</text>
</g>
</svg></body></html>
